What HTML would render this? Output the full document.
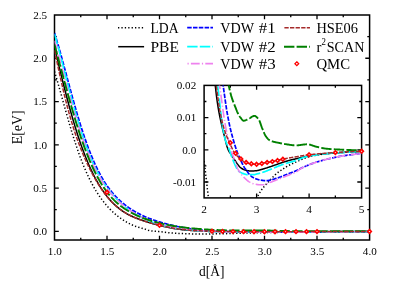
<!DOCTYPE html>
<html><head><meta charset="utf-8"><title>E vs d</title>
<style>html,body{margin:0;padding:0;background:#fff;width:396px;height:284px;overflow:hidden;font-family:"Liberation Serif",serif}</style>
</head><body>
<svg width="396" height="284" viewBox="0 0 396 284" style="position:absolute;left:0;top:0;will-change:transform">
<defs><clipPath id="cm"><rect x="54.50" y="15.00" width="315.10" height="225.00"/></clipPath><clipPath id="ci"><rect x="204.10" y="85.40" width="157.50" height="112.50"/></clipPath></defs>
<rect width="396" height="284" fill="#fff"/>
<path d="M80.75,240.00 v-2.30 M80.75,15.00 v2.30 M107.00,240.00 v-4.30 M107.00,15.00 v4.30 M133.25,240.00 v-2.30 M133.25,15.00 v2.30 M159.50,240.00 v-4.30 M159.50,15.00 v4.30 M185.75,240.00 v-2.30 M185.75,15.00 v2.30 M212.00,240.00 v-4.30 M212.00,15.00 v4.30 M238.25,240.00 v-2.30 M238.25,15.00 v2.30 M264.50,240.00 v-4.30 M264.50,15.00 v4.30 M290.75,240.00 v-2.30 M290.75,15.00 v2.30 M317.00,240.00 v-4.30 M317.00,15.00 v4.30 M343.25,240.00 v-2.30 M343.25,15.00 v2.30 M54.50,231.35 h4.30 M369.60,231.35 h-4.30 M54.50,209.72 h2.30 M369.60,209.72 h-2.30 M54.50,188.08 h4.30 M369.60,188.08 h-4.30 M54.50,166.44 h2.30 M369.60,166.44 h-2.30 M54.50,144.81 h4.30 M369.60,144.81 h-4.30 M54.50,123.17 h2.30 M369.60,123.17 h-2.30 M54.50,101.54 h4.30 M369.60,101.54 h-4.30 M54.50,79.90 h2.30 M369.60,79.90 h-2.30 M54.50,58.27 h4.30 M369.60,58.27 h-4.30 M54.50,36.63 h2.30 M369.60,36.63 h-2.30" stroke="#000" stroke-width="1.3" fill="none"/>
<rect x="54.50" y="15.00" width="315.10" height="225.00" stroke="#000" stroke-width="1.5" fill="none"/>
<g clip-path="url(#cm)">
<path d="M54.50,71.55 L55.72,75.57 L56.93,79.68 L58.15,83.88 L59.36,88.12 L60.58,92.42 L61.80,96.81 L63.01,101.23 L64.23,105.63 L65.45,109.98 L66.66,114.30 L67.88,118.59 L69.09,122.82 L70.31,126.95 L71.53,131.00 L72.74,134.97 L73.96,138.85 L75.18,142.62 L76.39,146.28 L77.61,149.84 L78.82,153.29 L80.04,156.64 L81.26,159.86 L82.47,162.98 L83.69,166.00 L84.91,168.90 L86.12,171.70 L87.34,174.40 L88.55,176.99 L89.77,179.49 L90.99,181.89 L92.20,184.20 L93.42,186.41 L94.64,188.54 L95.85,190.59 L97.07,192.55 L98.28,194.44 L99.50,196.25 L100.72,197.99 L101.93,199.66 L103.15,201.27 L104.36,202.80 L105.58,204.28 L106.80,205.70 L108.01,207.06 L109.23,208.37 L110.45,209.63 L111.66,210.83 L112.88,211.99 L114.09,213.10 L115.31,214.16 L116.53,215.18 L117.74,216.16 L118.96,217.10 L120.18,218.00 L121.39,218.86 L122.61,219.68 L123.82,220.47 L125.04,221.22 L126.26,221.93 L127.47,222.61 L128.69,223.26 L129.91,223.87 L131.12,224.45 L132.34,225.01 L133.55,225.54 L134.77,226.01 L135.99,226.43 L137.20,226.82 L138.42,227.19 L139.64,227.56 L140.85,227.92 L142.07,228.28 L143.28,228.64 L144.50,229.00 L145.72,229.40 L146.93,229.83 L148.15,230.22 L149.36,230.53 L150.58,230.77 L151.80,230.94 L153.01,231.08 L154.23,231.20 L155.45,231.30 L156.66,231.41 L157.88,231.51 L159.09,231.62 L160.31,231.73 L161.53,231.87 L162.74,232.01 L163.96,232.16 L165.18,232.30 L166.39,232.45 L167.61,232.58 L168.82,232.69 L170.04,232.79 L171.26,232.89 L172.47,232.98 L173.69,233.07 L174.91,233.15 L176.12,233.22 L177.34,233.30 L178.55,233.38 L179.77,233.45 L180.99,233.52 L182.20,233.58 L183.42,233.64 L184.64,233.69 L185.85,233.73 L187.07,233.77 L188.28,233.80 L189.50,233.84 L190.72,233.87 L191.93,233.90 L193.15,233.93 L194.36,233.95 L195.58,233.98 L196.80,234.00 L198.01,234.01 L199.23,234.02 L200.45,234.03 L201.66,234.03 L202.88,234.03 L204.09,234.02 L205.31,234.01 L206.53,234.00 L207.74,233.99 L208.96,233.97 L210.18,233.95 L211.39,233.93 L212.61,233.91 L213.82,233.89 L215.04,233.87 L216.26,233.85 L217.47,233.83 L218.69,233.81 L219.91,233.78 L221.12,233.76 L222.34,233.73 L223.55,233.70 L224.77,233.67 L225.99,233.63 L227.20,233.60 L228.42,233.57 L229.64,233.53 L230.85,233.50 L232.07,233.47 L233.28,233.43 L234.50,233.40 L235.72,233.36 L236.93,233.33 L238.15,233.30 L239.36,233.27 L240.58,233.24 L241.80,233.21 L243.01,233.17 L244.23,233.14 L245.45,233.11 L246.66,233.08 L247.88,233.05 L249.09,233.02 L250.31,232.99 L251.53,232.96 L252.74,232.93 L253.96,232.90 L255.18,232.87 L256.39,232.84 L257.61,232.81 L258.82,232.78 L260.04,232.75 L261.26,232.72 L262.47,232.69 L263.69,232.67 L264.91,232.64 L266.12,232.61 L267.34,232.58 L268.55,232.55 L269.77,232.52 L270.99,232.50 L272.20,232.47 L273.42,232.45 L274.64,232.42 L275.85,232.40 L277.07,232.38 L278.28,232.36 L279.50,232.34 L280.72,232.32 L281.93,232.30 L283.15,232.28 L284.36,232.27 L285.58,232.25 L286.80,232.23 L288.01,232.21 L289.23,232.20 L290.45,232.18 L291.66,232.16 L292.88,232.14 L294.09,232.13 L295.31,232.11 L296.53,232.09 L297.74,232.07 L298.96,232.06 L300.18,232.04 L301.39,232.03 L302.61,232.01 L303.82,232.00 L305.04,231.98 L306.26,231.97 L307.47,231.96 L308.69,231.94 L309.91,231.93 L311.12,231.92 L312.34,231.91 L313.55,231.90 L314.77,231.89 L315.99,231.88 L317.20,231.87 L318.42,231.86 L319.64,231.85 L320.85,231.83 L322.07,231.82 L323.28,231.81 L324.50,231.80 L325.72,231.79 L326.93,231.79 L328.15,231.78 L329.36,231.77 L330.58,231.76 L331.80,231.75 L333.01,231.74 L334.23,231.73 L335.45,231.73 L336.66,231.72 L337.88,231.71 L339.09,231.70 L340.31,231.70 L341.53,231.69 L342.74,231.68 L343.96,231.67 L345.18,231.67 L346.39,231.66 L347.61,231.65 L348.82,231.64 L350.04,231.64 L351.26,231.63 L352.47,231.62 L353.69,231.62 L354.91,231.61 L356.12,231.60 L357.34,231.60 L358.55,231.59 L359.77,231.58 L360.99,231.58 L362.20,231.57 L363.42,231.56 L364.64,231.56 L365.85,231.55 L367.07,231.55 L368.28,231.54 L369.50,231.54" stroke="#000" stroke-width="1.5" fill="none" stroke-dasharray="1.3 2.1"/>
<path d="M54.50,47.28 L55.72,52.41 L56.93,57.51 L58.15,62.59 L59.36,67.62 L60.58,72.62 L61.80,77.58 L63.01,82.46 L64.23,87.29 L65.45,92.04 L66.66,96.72 L67.88,101.31 L69.09,105.82 L70.31,110.24 L71.53,114.56 L72.74,118.78 L73.96,122.90 L75.18,126.92 L76.39,130.84 L77.61,134.65 L78.82,138.35 L80.04,141.95 L81.26,145.44 L82.47,148.83 L83.69,152.10 L84.91,155.27 L86.12,158.34 L87.34,161.31 L88.55,164.17 L89.77,166.93 L90.99,169.59 L92.20,172.15 L93.42,174.62 L94.64,177.00 L95.85,179.28 L97.07,181.48 L98.28,183.58 L99.50,185.61 L100.72,187.55 L101.93,189.41 L103.15,191.20 L104.36,192.91 L105.58,194.55 L106.80,196.11 L108.01,197.61 L109.23,199.04 L110.45,200.41 L111.66,201.72 L112.88,202.97 L114.09,204.16 L115.31,205.29 L116.53,206.37 L117.74,207.41 L118.96,208.39 L120.18,209.33 L121.39,210.22 L122.61,211.07 L123.82,211.88 L125.04,212.65 L126.26,213.38 L127.47,214.07 L128.69,214.73 L129.91,215.36 L131.12,215.96 L132.34,216.53 L133.55,217.07 L134.77,217.59 L135.99,218.09 L137.20,218.57 L138.42,219.03 L139.64,219.48 L140.85,219.91 L142.07,220.33 L143.28,220.74 L144.50,221.14 L145.72,221.53 L146.93,221.90 L148.15,222.28 L149.36,222.64 L150.58,222.99 L151.80,223.34 L153.01,223.68 L154.23,224.02 L155.45,224.35 L156.66,224.67 L157.88,224.99 L159.09,225.30 L160.31,225.60 L161.53,225.90 L162.74,226.19 L163.96,226.47 L165.18,226.75 L166.39,227.02 L167.61,227.28 L168.82,227.53 L170.04,227.77 L171.26,228.00 L172.47,228.22 L173.69,228.44 L174.91,228.64 L176.12,228.83 L177.34,229.02 L178.55,229.20 L179.77,229.36 L180.99,229.52 L182.20,229.67 L183.42,229.81 L184.64,229.94 L185.85,230.06 L187.07,230.17 L188.28,230.27 L189.50,230.36 L190.72,230.45 L191.93,230.52 L193.15,230.60 L194.36,230.67 L195.58,230.74 L196.80,230.81 L198.01,230.87 L199.23,230.94 L200.45,231.00 L201.66,231.06 L202.88,231.14 L204.09,231.20 L205.31,231.26 L206.53,231.31 L207.74,231.35 L208.96,231.38 L210.18,231.41 L211.39,231.43 L212.61,231.46 L213.82,231.48 L215.04,231.51 L216.26,231.53 L217.47,231.56 L218.69,231.58 L219.91,231.61 L221.12,231.63 L222.34,231.66 L223.55,231.68 L224.77,231.71 L225.99,231.73 L227.20,231.75 L228.42,231.77 L229.64,231.79 L230.85,231.81 L232.07,231.83 L233.28,231.84 L234.50,231.85 L235.72,231.86 L236.93,231.87 L238.15,231.88 L239.36,231.88 L240.58,231.89 L241.80,231.90 L243.01,231.90 L244.23,231.90 L245.45,231.91 L246.66,231.91 L247.88,231.91 L249.09,231.92 L250.31,231.92 L251.53,231.92 L252.74,231.92 L253.96,231.92 L255.18,231.92 L256.39,231.92 L257.61,231.92 L258.82,231.92 L260.04,231.92 L261.26,231.91 L262.47,231.91 L263.69,231.91 L264.91,231.91 L266.12,231.91 L267.34,231.90 L268.55,231.90 L269.77,231.90 L270.99,231.89 L272.20,231.89 L273.42,231.88 L274.64,231.88 L275.85,231.87 L277.07,231.87 L278.28,231.86 L279.50,231.86 L280.72,231.85 L281.93,231.85 L283.15,231.84 L284.36,231.84 L285.58,231.83 L286.80,231.83 L288.01,231.82 L289.23,231.82 L290.45,231.81 L291.66,231.81 L292.88,231.80 L294.09,231.79 L295.31,231.79 L296.53,231.78 L297.74,231.78 L298.96,231.77 L300.18,231.77 L301.39,231.76 L302.61,231.75 L303.82,231.75 L305.04,231.74 L306.26,231.74 L307.47,231.73 L308.69,231.72 L309.91,231.72 L311.12,231.71 L312.34,231.71 L313.55,231.70 L314.77,231.70 L315.99,231.69 L317.20,231.69 L318.42,231.68 L319.64,231.68 L320.85,231.67 L322.07,231.67 L323.28,231.66 L324.50,231.66 L325.72,231.65 L326.93,231.65 L328.15,231.64 L329.36,231.64 L330.58,231.63 L331.80,231.63 L333.01,231.62 L334.23,231.62 L335.45,231.62 L336.66,231.61 L337.88,231.61 L339.09,231.60 L340.31,231.60 L341.53,231.60 L342.74,231.59 L343.96,231.59 L345.18,231.59 L346.39,231.58 L347.61,231.58 L348.82,231.57 L350.04,231.57 L351.26,231.57 L352.47,231.56 L353.69,231.56 L354.91,231.56 L356.12,231.55 L357.34,231.55 L358.55,231.54 L359.77,231.54 L360.99,231.54 L362.20,231.53 L363.42,231.53 L364.64,231.53 L365.85,231.52 L367.07,231.52 L368.28,231.52 L369.50,231.51" stroke="#000" stroke-width="1.5" fill="none"/>
<path d="M54.50,33.05 L55.72,36.93 L56.93,40.94 L58.15,45.05 L59.36,49.25 L60.58,53.58 L61.80,57.99 L63.01,62.44 L64.23,66.92 L65.45,71.46 L66.66,75.99 L67.88,80.51 L69.09,85.04 L70.31,89.54 L71.53,93.99 L72.74,98.39 L73.96,102.76 L75.18,107.05 L76.39,111.27 L77.61,115.41 L78.82,119.48 L80.04,123.45 L81.26,127.33 L82.47,131.12 L83.69,134.80 L84.91,138.38 L86.12,141.87 L87.34,145.25 L88.55,148.51 L89.77,151.68 L90.99,154.74 L92.20,157.69 L93.42,160.54 L94.64,163.29 L95.85,165.93 L97.07,168.47 L98.28,170.91 L99.50,173.26 L100.72,175.50 L101.93,177.66 L103.15,179.73 L104.36,181.70 L105.58,183.59 L106.80,185.40 L108.01,187.13 L109.23,188.78 L110.45,190.36 L111.66,191.87 L112.88,193.32 L114.09,194.71 L115.31,196.04 L116.53,197.32 L117.74,198.55 L118.96,199.72 L120.18,200.85 L121.39,201.94 L122.61,202.98 L123.82,203.98 L125.04,204.95 L126.26,205.88 L127.47,206.77 L128.69,207.63 L129.91,208.46 L131.12,209.26 L132.34,210.03 L133.55,210.77 L134.77,211.49 L135.99,212.18 L137.20,212.85 L138.42,213.50 L139.64,214.12 L140.85,214.72 L142.07,215.30 L143.28,215.87 L144.50,216.41 L145.72,216.94 L146.93,217.45 L148.15,217.94 L149.36,218.42 L150.58,218.88 L151.80,219.33 L153.01,219.77 L154.23,220.19 L155.45,220.61 L156.66,221.01 L157.88,221.40 L159.09,221.78 L160.31,222.16 L161.53,222.52 L162.74,222.87 L163.96,223.22 L165.18,223.55 L166.39,223.88 L167.61,224.20 L168.82,224.51 L170.04,224.81 L171.26,225.10 L172.47,225.39 L173.69,225.67 L174.91,225.94 L176.12,226.20 L177.34,226.46 L178.55,226.71 L179.77,226.95 L180.99,227.18 L182.20,227.40 L183.42,227.62 L184.64,227.83 L185.85,228.03 L187.07,228.23 L188.28,228.42 L189.50,228.60 L190.72,228.77 L191.93,228.94 L193.15,229.09 L194.36,229.25 L195.58,229.39 L196.80,229.53 L198.01,229.66 L199.23,229.78 L200.45,229.90 L201.66,230.01 L202.88,230.12 L204.09,230.23 L205.31,230.33 L206.53,230.42 L207.74,230.51 L208.96,230.60 L210.18,230.67 L211.39,230.75 L212.61,230.82 L213.82,230.88 L215.04,230.94 L216.26,231.00 L217.47,231.06 L218.69,231.12 L219.91,231.17 L221.12,231.23 L222.34,231.28 L223.55,231.33 L224.77,231.37 L225.99,231.42 L227.20,231.46 L228.42,231.50 L229.64,231.54 L230.85,231.58 L232.07,231.61 L233.28,231.65 L234.50,231.68 L235.72,231.72 L236.93,231.75 L238.15,231.78 L239.36,231.81 L240.58,231.84 L241.80,231.86 L243.01,231.88 L244.23,231.90 L245.45,231.92 L246.66,231.95 L247.88,231.97 L249.09,231.99 L250.31,232.01 L251.53,232.03 L252.74,232.05 L253.96,232.06 L255.18,232.07 L256.39,232.09 L257.61,232.10 L258.82,232.10 L260.04,232.11 L261.26,232.12 L262.47,232.13 L263.69,232.13 L264.91,232.14 L266.12,232.14 L267.34,232.15 L268.55,232.15 L269.77,232.16 L270.99,232.16 L272.20,232.16 L273.42,232.17 L274.64,232.17 L275.85,232.17 L277.07,232.17 L278.28,232.18 L279.50,232.18 L280.72,232.18 L281.93,232.18 L283.15,232.18 L284.36,232.18 L285.58,232.18 L286.80,232.18 L288.01,232.18 L289.23,232.17 L290.45,232.17 L291.66,232.17 L292.88,232.16 L294.09,232.16 L295.31,232.15 L296.53,232.15 L297.74,232.14 L298.96,232.14 L300.18,232.13 L301.39,232.13 L302.61,232.12 L303.82,232.12 L305.04,232.11 L306.26,232.11 L307.47,232.10 L308.69,232.10 L309.91,232.09 L311.12,232.09 L312.34,232.08 L313.55,232.07 L314.77,232.07 L315.99,232.06 L317.20,232.05 L318.42,232.05 L319.64,232.04 L320.85,232.03 L322.07,232.03 L323.28,232.02 L324.50,232.01 L325.72,232.01 L326.93,232.00 L328.15,231.99 L329.36,231.99 L330.58,231.98 L331.80,231.98 L333.01,231.97 L334.23,231.96 L335.45,231.96 L336.66,231.95 L337.88,231.94 L339.09,231.94 L340.31,231.93 L341.53,231.92 L342.74,231.92 L343.96,231.91 L345.18,231.90 L346.39,231.89 L347.61,231.89 L348.82,231.88 L350.04,231.87 L351.26,231.86 L352.47,231.85 L353.69,231.84 L354.91,231.84 L356.12,231.83 L357.34,231.82 L358.55,231.81 L359.77,231.81 L360.99,231.80 L362.20,231.79 L363.42,231.79 L364.64,231.78 L365.85,231.77 L367.07,231.77 L368.28,231.76 L369.50,231.75" stroke="#0000ff" stroke-width="1.7" fill="none" stroke-dasharray="4.5 1.3"/>
<path d="M54.50,34.05 L55.72,38.29 L56.93,42.65 L58.15,47.09 L59.36,51.62 L60.58,56.25 L61.80,60.94 L63.01,65.65 L64.23,70.37 L65.45,75.12 L66.66,79.86 L67.88,84.55 L69.09,89.22 L70.31,93.85 L71.53,98.41 L72.74,102.90 L73.96,107.33 L75.18,111.67 L76.39,115.91 L77.61,120.06 L78.82,124.12 L80.04,128.06 L81.26,131.89 L82.47,135.62 L83.69,139.24 L84.91,142.73 L86.12,146.12 L87.34,149.39 L88.55,152.54 L89.77,155.58 L90.99,158.51 L92.20,161.32 L93.42,164.02 L94.64,166.62 L95.85,169.11 L97.07,171.49 L98.28,173.77 L99.50,175.96 L100.72,178.06 L101.93,180.08 L103.15,182.01 L104.36,183.87 L105.58,185.66 L106.80,187.38 L108.01,189.03 L109.23,190.62 L110.45,192.16 L111.66,193.63 L112.88,195.05 L114.09,196.42 L115.31,197.74 L116.53,199.02 L117.74,200.25 L118.96,201.44 L120.18,202.58 L121.39,203.69 L122.61,204.76 L123.82,205.79 L125.04,206.79 L126.26,207.76 L127.47,208.69 L128.69,209.59 L129.91,210.46 L131.12,211.30 L132.34,212.12 L133.55,212.90 L134.77,213.66 L135.99,214.40 L137.20,215.11 L138.42,215.80 L139.64,216.46 L140.85,217.11 L142.07,217.73 L143.28,218.33 L144.50,218.91 L145.72,219.47 L146.93,220.01 L148.15,220.53 L149.36,221.03 L150.58,221.51 L151.80,221.98 L153.01,222.43 L154.23,222.87 L155.45,223.28 L156.66,223.69 L157.88,224.07 L159.09,224.44 L160.31,224.80 L161.53,225.15 L162.74,225.48 L163.96,225.79 L165.18,226.09 L166.39,226.39 L167.61,226.66 L168.82,226.93 L170.04,227.18 L171.26,227.43 L172.47,227.66 L173.69,227.88 L174.91,228.09 L176.12,228.29 L177.34,228.48 L178.55,228.66 L179.77,228.84 L180.99,229.00 L182.20,229.16 L183.42,229.30 L184.64,229.44 L185.85,229.57 L187.07,229.69 L188.28,229.81 L189.50,229.94 L190.72,230.08 L191.93,230.23 L193.15,230.38 L194.36,230.51 L195.58,230.64 L196.80,230.75 L198.01,230.85 L199.23,230.93 L200.45,231.01 L201.66,231.07 L202.88,231.12 L204.09,231.17 L205.31,231.21 L206.53,231.24 L207.74,231.28 L208.96,231.32 L210.18,231.36 L211.39,231.41 L212.61,231.46 L213.82,231.51 L215.04,231.55 L216.26,231.59 L217.47,231.63 L218.69,231.67 L219.91,231.71 L221.12,231.75 L222.34,231.78 L223.55,231.82 L224.77,231.85 L225.99,231.88 L227.20,231.90 L228.42,231.92 L229.64,231.93 L230.85,231.94 L232.07,231.95 L233.28,231.96 L234.50,231.97 L235.72,231.98 L236.93,231.98 L238.15,231.99 L239.36,232.00 L240.58,232.00 L241.80,232.01 L243.01,232.01 L244.23,232.02 L245.45,232.02 L246.66,232.02 L247.88,232.02 L249.09,232.02 L250.31,232.02 L251.53,232.02 L252.74,232.02 L253.96,232.02 L255.18,232.02 L256.39,232.02 L257.61,232.02 L258.82,232.02 L260.04,232.02 L261.26,232.01 L262.47,232.01 L263.69,232.01 L264.91,232.00 L266.12,232.00 L267.34,231.99 L268.55,231.99 L269.77,231.98 L270.99,231.98 L272.20,231.98 L273.42,231.97 L274.64,231.97 L275.85,231.96 L277.07,231.95 L278.28,231.95 L279.50,231.94 L280.72,231.94 L281.93,231.93 L283.15,231.93 L284.36,231.92 L285.58,231.91 L286.80,231.91 L288.01,231.90 L289.23,231.89 L290.45,231.89 L291.66,231.88 L292.88,231.87 L294.09,231.87 L295.31,231.86 L296.53,231.85 L297.74,231.85 L298.96,231.84 L300.18,231.83 L301.39,231.83 L302.61,231.82 L303.82,231.81 L305.04,231.81 L306.26,231.80 L307.47,231.79 L308.69,231.79 L309.91,231.78 L311.12,231.77 L312.34,231.77 L313.55,231.76 L314.77,231.76 L315.99,231.75 L317.20,231.74 L318.42,231.74 L319.64,231.73 L320.85,231.73 L322.07,231.72 L323.28,231.72 L324.50,231.71 L325.72,231.71 L326.93,231.70 L328.15,231.70 L329.36,231.69 L330.58,231.69 L331.80,231.68 L333.01,231.68 L334.23,231.67 L335.45,231.67 L336.66,231.67 L337.88,231.66 L339.09,231.66 L340.31,231.65 L341.53,231.65 L342.74,231.64 L343.96,231.63 L345.18,231.63 L346.39,231.62 L347.61,231.62 L348.82,231.61 L350.04,231.60 L351.26,231.59 L352.47,231.59 L353.69,231.58 L354.91,231.57 L356.12,231.57 L357.34,231.56 L358.55,231.55 L359.77,231.55 L360.99,231.54 L362.20,231.54 L363.42,231.54 L364.64,231.53 L365.85,231.53 L367.07,231.53 L368.28,231.52 L369.50,231.52" stroke="#00ffff" stroke-width="1.7" fill="none" stroke-dasharray="10.4 2.2"/>
<path d="M54.50,40.75 L55.72,45.01 L56.93,49.35 L58.15,53.75 L59.36,58.19 L60.58,62.71 L61.80,67.25 L63.01,71.79 L64.23,76.33 L65.45,80.87 L66.66,85.39 L67.88,89.86 L69.09,94.29 L70.31,98.68 L71.53,103.00 L72.74,107.25 L73.96,111.43 L75.18,115.53 L76.39,119.54 L77.61,123.47 L78.82,127.30 L80.04,131.03 L81.26,134.66 L82.47,138.20 L83.69,141.63 L84.91,144.95 L86.12,148.18 L87.34,151.30 L88.55,154.31 L89.77,157.22 L90.99,160.03 L92.20,162.74 L93.42,165.34 L94.64,167.85 L95.85,170.27 L97.07,172.58 L98.28,174.80 L99.50,176.93 L100.72,178.98 L101.93,180.95 L103.15,182.83 L104.36,184.64 L105.58,186.38 L106.80,188.06 L108.01,189.66 L109.23,191.21 L110.45,192.70 L111.66,194.14 L112.88,195.52 L114.09,196.85 L115.31,198.14 L116.53,199.37 L117.74,200.57 L118.96,201.72 L120.18,202.83 L121.39,203.90 L122.61,204.94 L123.82,205.94 L125.04,206.90 L126.26,207.83 L127.47,208.73 L128.69,209.60 L129.91,210.45 L131.12,211.26 L132.34,212.04 L133.55,212.80 L134.77,213.54 L135.99,214.25 L137.20,214.93 L138.42,215.59 L139.64,216.23 L140.85,216.85 L142.07,217.45 L143.28,218.03 L144.50,218.59 L145.72,219.13 L146.93,219.65 L148.15,220.15 L149.36,220.64 L150.58,221.11 L151.80,221.56 L153.01,222.00 L154.23,222.42 L155.45,222.83 L156.66,223.22 L157.88,223.60 L159.09,223.96 L160.31,224.32 L161.53,224.65 L162.74,224.98 L163.96,225.29 L165.18,225.59 L166.39,225.88 L167.61,226.16 L168.82,226.43 L170.04,226.68 L171.26,226.93 L172.47,227.16 L173.69,227.39 L174.91,227.61 L176.12,227.81 L177.34,228.01 L178.55,228.20 L179.77,228.38 L180.99,228.55 L182.20,228.72 L183.42,228.87 L184.64,229.02 L185.85,229.16 L187.07,229.30 L188.28,229.43 L189.50,229.55 L190.72,229.66 L191.93,229.76 L193.15,229.88 L194.36,230.00 L195.58,230.12 L196.80,230.24 L198.01,230.35 L199.23,230.46 L200.45,230.57 L201.66,230.67 L202.88,230.76 L204.09,230.84 L205.31,230.92 L206.53,230.99 L207.74,231.06 L208.96,231.12 L210.18,231.19 L211.39,231.26 L212.61,231.32 L213.82,231.37 L215.04,231.42 L216.26,231.47 L217.47,231.51 L218.69,231.56 L219.91,231.60 L221.12,231.65 L222.34,231.69 L223.55,231.74 L224.77,231.78 L225.99,231.83 L227.20,231.87 L228.42,231.90 L229.64,231.93 L230.85,231.95 L232.07,231.98 L233.28,232.00 L234.50,232.02 L235.72,232.04 L236.93,232.06 L238.15,232.08 L239.36,232.09 L240.58,232.11 L241.80,232.12 L243.01,232.14 L244.23,232.15 L245.45,232.17 L246.66,232.18 L247.88,232.19 L249.09,232.21 L250.31,232.22 L251.53,232.22 L252.74,232.23 L253.96,232.24 L255.18,232.25 L256.39,232.25 L257.61,232.26 L258.82,232.27 L260.04,232.27 L261.26,232.27 L262.47,232.28 L263.69,232.28 L264.91,232.28 L266.12,232.28 L267.34,232.29 L268.55,232.29 L269.77,232.29 L270.99,232.29 L272.20,232.29 L273.42,232.29 L274.64,232.29 L275.85,232.29 L277.07,232.29 L278.28,232.29 L279.50,232.29 L280.72,232.28 L281.93,232.28 L283.15,232.27 L284.36,232.27 L285.58,232.26 L286.80,232.25 L288.01,232.25 L289.23,232.24 L290.45,232.23 L291.66,232.23 L292.88,232.22 L294.09,232.21 L295.31,232.21 L296.53,232.20 L297.74,232.20 L298.96,232.19 L300.18,232.18 L301.39,232.18 L302.61,232.17 L303.82,232.16 L305.04,232.16 L306.26,232.15 L307.47,232.14 L308.69,232.14 L309.91,232.13 L311.12,232.12 L312.34,232.12 L313.55,232.11 L314.77,232.10 L315.99,232.10 L317.20,232.09 L318.42,232.08 L319.64,232.08 L320.85,232.07 L322.07,232.07 L323.28,232.06 L324.50,232.05 L325.72,232.05 L326.93,232.04 L328.15,232.03 L329.36,232.03 L330.58,232.02 L331.80,232.01 L333.01,232.01 L334.23,232.00 L335.45,231.99 L336.66,231.99 L337.88,231.98 L339.09,231.97 L340.31,231.97 L341.53,231.96 L342.74,231.95 L343.96,231.94 L345.18,231.93 L346.39,231.92 L347.61,231.91 L348.82,231.90 L350.04,231.88 L351.26,231.87 L352.47,231.86 L353.69,231.85 L354.91,231.84 L356.12,231.83 L357.34,231.82 L358.55,231.81 L359.77,231.81 L360.99,231.80 L362.20,231.79 L363.42,231.78 L364.64,231.78 L365.85,231.77 L367.07,231.76 L368.28,231.76 L369.50,231.75" stroke="#ee82ee" stroke-width="1.6" fill="none" stroke-dasharray="8.8 2.2 1.2 2.2"/>
<path d="M54.50,44.58 L55.72,49.09 L56.93,53.62 L58.15,58.17 L59.36,62.72 L60.58,67.28 L61.80,71.84 L63.01,76.37 L64.23,80.88 L65.45,85.37 L66.66,89.82 L67.88,94.22 L69.09,98.58 L70.31,102.88 L71.53,107.12 L72.74,111.30 L73.96,115.42 L75.18,119.46 L76.39,123.42 L77.61,127.30 L78.82,131.09 L80.04,134.79 L81.26,138.40 L82.47,141.91 L83.69,145.32 L84.91,148.63 L86.12,151.84 L87.34,154.96 L88.55,157.96 L89.77,160.87 L90.99,163.68 L92.20,166.39 L93.42,169.00 L94.64,171.51 L95.85,173.93 L97.07,176.25 L98.28,178.49 L99.50,180.63 L100.72,182.68 L101.93,184.65 L103.15,186.53 L104.36,188.34 L105.58,190.06 L106.80,191.71 L108.01,193.29 L109.23,194.79 L110.45,196.23 L111.66,197.60 L112.88,198.90 L114.09,200.14 L115.31,201.32 L116.53,202.45 L117.74,203.52 L118.96,204.55 L120.18,205.52 L121.39,206.46 L122.61,207.35 L123.82,208.20 L125.04,209.02 L126.26,209.80 L127.47,210.55 L128.69,211.27 L129.91,211.97 L131.12,212.63 L132.34,213.27 L133.55,213.89 L134.77,214.48 L135.99,215.06 L137.20,215.61 L138.42,216.14 L139.64,216.66 L140.85,217.15 L142.07,217.64 L143.28,218.10 L144.50,218.55 L145.72,218.99 L146.93,219.41 L148.15,219.82 L149.36,220.22 L150.58,220.61 L151.80,220.98 L153.01,221.34 L154.23,221.69 L155.45,222.03 L156.66,222.36 L157.88,222.67 L159.09,222.98 L160.31,223.28 L161.53,223.57 L162.74,223.84 L163.96,224.11 L165.18,224.37 L166.39,224.63 L167.61,224.87 L168.82,225.10 L170.04,225.33 L171.26,225.55 L172.47,225.76 L173.69,225.97 L174.91,226.17 L176.12,226.36 L177.34,226.55 L178.55,226.73 L179.77,226.90 L180.99,227.07 L182.20,227.23 L183.42,227.38 L184.64,227.53 L185.85,227.68 L187.07,227.82 L188.28,227.95 L189.50,228.09 L190.72,228.21 L191.93,228.33 L193.15,228.45 L194.36,228.56 L195.58,228.67 L196.80,228.78 L198.01,228.88 L199.23,228.98 L200.45,229.07 L201.66,229.16 L202.88,229.25 L204.09,229.33 L205.31,229.41 L206.53,229.49 L207.74,229.57 L208.96,229.64 L210.18,229.71 L211.39,229.78 L212.61,229.84 L213.82,229.90 L215.04,229.96 L216.26,230.01 L217.47,230.05 L218.69,230.09 L219.91,230.13 L221.12,230.17 L222.34,230.21 L223.55,230.26 L224.77,230.30 L225.99,230.34 L227.20,230.37 L228.42,230.40 L229.64,230.43 L230.85,230.46 L232.07,230.48 L233.28,230.50 L234.50,230.52 L235.72,230.54 L236.93,230.56 L238.15,230.57 L239.36,230.57 L240.58,230.56 L241.80,230.56 L243.01,230.55 L244.23,230.55 L245.45,230.54 L246.66,230.53 L247.88,230.52 L249.09,230.51 L250.31,230.50 L251.53,230.50 L252.74,230.48 L253.96,230.47 L255.18,230.46 L256.39,230.45 L257.61,230.45 L258.82,230.44 L260.04,230.44 L261.26,230.44 L262.47,230.45 L263.69,230.46 L264.91,230.48 L266.12,230.49 L267.34,230.51 L268.55,230.53 L269.77,230.56 L270.99,230.60 L272.20,230.64 L273.42,230.69 L274.64,230.74 L275.85,230.78 L277.07,230.82 L278.28,230.86 L279.50,230.90 L280.72,230.93 L281.93,230.96 L283.15,230.99 L284.36,231.01 L285.58,231.03 L286.80,231.05 L288.01,231.07 L289.23,231.08 L290.45,231.09 L291.66,231.10 L292.88,231.11 L294.09,231.12 L295.31,231.12 L296.53,231.13 L297.74,231.13 L298.96,231.14 L300.18,231.14 L301.39,231.14 L302.61,231.15 L303.82,231.15 L305.04,231.15 L306.26,231.16 L307.47,231.16 L308.69,231.16 L309.91,231.17 L311.12,231.17 L312.34,231.17 L313.55,231.18 L314.77,231.18 L315.99,231.18 L317.20,231.19 L318.42,231.19 L319.64,231.19 L320.85,231.19 L322.07,231.20 L323.28,231.20 L324.50,231.20 L325.72,231.20 L326.93,231.21 L328.15,231.21 L329.36,231.21 L330.58,231.21 L331.80,231.22 L333.01,231.22 L334.23,231.22 L335.45,231.22 L336.66,231.23 L337.88,231.23 L339.09,231.23 L340.31,231.23 L341.53,231.23 L342.74,231.23 L343.96,231.23 L345.18,231.23 L346.39,231.23 L347.61,231.23 L348.82,231.23 L350.04,231.23 L351.26,231.22 L352.47,231.22 L353.69,231.22 L354.91,231.22 L356.12,231.21 L357.34,231.21 L358.55,231.21 L359.77,231.21 L360.99,231.21 L362.20,231.20 L363.42,231.20 L364.64,231.20 L365.85,231.20 L367.07,231.20 L368.28,231.20 L369.50,231.21" stroke="#008000" stroke-width="1.9" fill="none" stroke-dasharray="10.4 2.2"/>
<path d="M54.50,50.12 L55.72,55.94 L56.93,61.69 L58.15,67.35 L59.36,72.94 L60.58,78.45 L61.80,83.86 L63.01,89.12 L64.23,94.24 L65.45,99.23 L66.66,104.06 L67.88,108.70 L69.09,113.18 L70.31,117.50 L71.53,121.65 L72.74,125.64 L73.96,129.48 L75.18,133.18 L76.39,136.75 L77.61,140.19 L78.82,143.51 L80.04,146.71 L81.26,149.81 L82.47,152.80 L83.69,155.70 L84.91,158.50 L86.12,161.21 L87.34,163.84 L88.55,166.38 L89.77,168.85 L90.99,171.23 L92.20,173.55 L93.42,175.80 L94.64,177.97 L95.85,180.09 L97.07,182.14 L98.28,184.13 L99.50,186.06 L100.72,187.92 L101.93,189.73 L103.15,191.47 L104.36,193.15 L105.58,194.76 L106.80,196.30 L108.01,197.78 L109.23,199.19 L110.45,200.54 L111.66,201.82 L112.88,203.04 L114.09,204.21 L115.31,205.32 L116.53,206.38 L117.74,207.39 L118.96,208.35 L120.18,209.27 L121.39,210.14 L122.61,210.98 L123.82,211.78 L125.04,212.54 L126.26,213.27 L127.47,213.96 L128.69,214.62 L129.91,215.25 L131.12,215.85 L132.34,216.43 L133.55,216.98 L134.77,217.51 L135.99,218.02 L137.20,218.51 L138.42,218.98 L139.64,219.44 L140.85,219.88 L142.07,220.30 L143.28,220.72 L144.50,221.12 L145.72,221.51 L146.93,221.89 L148.15,222.26 L149.36,222.62 L150.58,222.97 L151.80,223.31 L153.01,223.64 L154.23,223.96 L155.45,224.28 L156.66,224.59 L157.88,224.89 L159.09,225.19 L160.31,225.48 L161.53,225.76 L162.74,226.03 L163.96,226.30 L165.18,226.55 L166.39,226.81 L167.61,227.05 L168.82,227.29 L170.04,227.52 L171.26,227.74 L172.47,227.96 L173.69,228.17 L174.91,228.37 L176.12,228.56 L177.34,228.75 L178.55,228.92 L179.77,229.09 L180.99,229.26 L182.20,229.41 L183.42,229.56 L184.64,229.70 L185.85,229.83 L187.07,229.96 L188.28,230.07 L189.50,230.18 L190.72,230.28 L191.93,230.37 L193.15,230.45 L194.36,230.52 L195.58,230.59 L196.80,230.66 L198.01,230.72 L199.23,230.77 L200.45,230.83 L201.66,230.88 L202.88,230.92 L204.09,230.97 L205.31,231.01 L206.53,231.05 L207.74,231.08 L208.96,231.12 L210.18,231.16 L211.39,231.19 L212.61,231.23 L213.82,231.26 L215.04,231.30 L216.26,231.33 L217.47,231.36 L218.69,231.39 L219.91,231.42 L221.12,231.44 L222.34,231.46 L223.55,231.48 L224.77,231.50 L225.99,231.52 L227.20,231.54 L228.42,231.55 L229.64,231.57 L230.85,231.58 L232.07,231.59 L233.28,231.61 L234.50,231.62 L235.72,231.63 L236.93,231.65 L238.15,231.66 L239.36,231.67 L240.58,231.68 L241.80,231.69 L243.01,231.69 L244.23,231.70 L245.45,231.70 L246.66,231.71 L247.88,231.71 L249.09,231.72 L250.31,231.72 L251.53,231.72 L252.74,231.73 L253.96,231.73 L255.18,231.73 L256.39,231.73 L257.61,231.73 L258.82,231.74 L260.04,231.74 L261.26,231.74 L262.47,231.74 L263.69,231.74 L264.91,231.74 L266.12,231.74 L267.34,231.74 L268.55,231.73 L269.77,231.73 L270.99,231.73 L272.20,231.72 L273.42,231.72 L274.64,231.72 L275.85,231.71 L277.07,231.71 L278.28,231.71 L279.50,231.70 L280.72,231.70 L281.93,231.70 L283.15,231.69 L284.36,231.69 L285.58,231.69 L286.80,231.68 L288.01,231.68 L289.23,231.68 L290.45,231.68 L291.66,231.67 L292.88,231.67 L294.09,231.67 L295.31,231.67 L296.53,231.66 L297.74,231.66 L298.96,231.66 L300.18,231.65 L301.39,231.65 L302.61,231.64 L303.82,231.64 L305.04,231.64 L306.26,231.63 L307.47,231.63 L308.69,231.63 L309.91,231.62 L311.12,231.62 L312.34,231.61 L313.55,231.61 L314.77,231.61 L315.99,231.60 L317.20,231.60 L318.42,231.60 L319.64,231.59 L320.85,231.59 L322.07,231.59 L323.28,231.58 L324.50,231.58 L325.72,231.58 L326.93,231.58 L328.15,231.57 L329.36,231.57 L330.58,231.57 L331.80,231.56 L333.01,231.56 L334.23,231.56 L335.45,231.56 L336.66,231.55 L337.88,231.55 L339.09,231.55 L340.31,231.54 L341.53,231.54 L342.74,231.54 L343.96,231.54 L345.18,231.53 L346.39,231.53 L347.61,231.53 L348.82,231.53 L350.04,231.52 L351.26,231.52 L352.47,231.52 L353.69,231.51 L354.91,231.51 L356.12,231.51 L357.34,231.51 L358.55,231.50 L359.77,231.50 L360.99,231.50 L362.20,231.50 L363.42,231.49 L364.64,231.49 L365.85,231.49 L367.07,231.49 L368.28,231.48 L369.50,231.48" stroke="#a52a2a" stroke-width="1.5" fill="none" stroke-dasharray="4.3 1.3"/>
</g>
<path d="M107.00,190.40 l1.80,1.80 l-1.80,1.80 l-1.80,-1.80 z" fill="#fff" stroke="#ff0000" stroke-width="1.6"/>
<path d="M159.50,223.40 l1.80,1.80 l-1.80,1.80 l-1.80,-1.80 z" fill="#fff" stroke="#ff0000" stroke-width="1.6"/>
<path d="M212.00,229.36 l1.80,1.80 l-1.80,1.80 l-1.80,-1.80 z" fill="#fff" stroke="#ff0000" stroke-width="1.6"/>
<path d="M222.50,229.64 l1.80,1.80 l-1.80,1.80 l-1.80,-1.80 z" fill="#fff" stroke="#ff0000" stroke-width="1.6"/>
<path d="M233.00,229.79 l1.80,1.80 l-1.80,1.80 l-1.80,-1.80 z" fill="#fff" stroke="#ff0000" stroke-width="1.6"/>
<path d="M243.50,229.89 l1.80,1.80 l-1.80,1.80 l-1.80,-1.80 z" fill="#fff" stroke="#ff0000" stroke-width="1.6"/>
<path d="M254.00,229.93 l1.80,1.80 l-1.80,1.80 l-1.80,-1.80 z" fill="#fff" stroke="#ff0000" stroke-width="1.6"/>
<path d="M264.50,229.94 l1.80,1.80 l-1.80,1.80 l-1.80,-1.80 z" fill="#fff" stroke="#ff0000" stroke-width="1.6"/>
<path d="M275.00,229.92 l1.80,1.80 l-1.80,1.80 l-1.80,-1.80 z" fill="#fff" stroke="#ff0000" stroke-width="1.6"/>
<path d="M285.50,229.89 l1.80,1.80 l-1.80,1.80 l-1.80,-1.80 z" fill="#fff" stroke="#ff0000" stroke-width="1.6"/>
<path d="M296.00,229.87 l1.80,1.80 l-1.80,1.80 l-1.80,-1.80 z" fill="#fff" stroke="#ff0000" stroke-width="1.6"/>
<path d="M306.50,229.84 l1.80,1.80 l-1.80,1.80 l-1.80,-1.80 z" fill="#fff" stroke="#ff0000" stroke-width="1.6"/>
<path d="M317.00,229.80 l1.80,1.80 l-1.80,1.80 l-1.80,-1.80 z" fill="#fff" stroke="#ff0000" stroke-width="1.6"/>
<path d="M369.50,229.68 l1.80,1.80 l-1.80,1.80 l-1.80,-1.80 z" fill="#fff" stroke="#ff0000" stroke-width="1.6"/>
<rect x="204.10" y="85.40" width="157.50" height="112.50" fill="#fff" stroke="#000" stroke-width="1.5"/>
<path d="M230.35,197.90 v-2.30 M230.35,85.40 v2.30 M256.60,197.90 v-4.30 M256.60,85.40 v4.30 M282.85,197.90 v-2.30 M282.85,85.40 v2.30 M309.10,197.90 v-4.30 M309.10,85.40 v4.30 M335.35,197.90 v-2.30 M335.35,85.40 v2.30 M204.10,182.00 h4.30 M361.60,182.00 h-4.30 M204.10,165.90 h2.30 M361.60,165.90 h-2.30 M204.10,149.80 h4.30 M361.60,149.80 h-4.30 M204.10,133.70 h2.30 M361.60,133.70 h-2.30 M204.10,117.60 h4.30 M361.60,117.60 h-4.30 M204.10,101.50 h2.30 M361.60,101.50 h-2.30" stroke="#000" stroke-width="1.3" fill="none"/>
<g clip-path="url(#ci)">
<path d="M204.10,161.07 L204.54,164.29 L204.98,167.87 L205.42,171.74 L205.85,175.73 L206.29,179.58 L206.73,183.44 L207.17,187.35 L207.61,191.17 L208.05,194.69 L208.49,197.74 L208.93,200.61 L209.36,203.38 L209.80,206.02 L210.24,208.55 L210.68,210.95 L211.12,213.24 L211.56,215.43 L212.00,217.52 L212.44,219.59 L212.87,221.65 L213.31,223.71 L213.75,225.74 L214.19,227.71 L214.63,229.62 L215.07,231.44 L215.51,233.15 L215.95,234.73 L216.38,236.15 L216.82,237.39 L217.26,238.43 L217.70,239.37 L218.14,240.31 L218.58,241.23 L219.02,242.13 L219.46,243.01 L219.89,243.86 L220.33,244.67 L220.77,245.45 L221.21,246.17 L221.65,246.85 L222.09,247.46 L222.53,248.01 L222.96,248.49 L223.40,248.89 L223.84,249.21 L224.28,249.44 L224.72,249.58 L225.16,249.62 L225.60,249.57 L226.04,249.45 L226.47,249.27 L226.91,249.02 L227.35,248.72 L227.79,248.36 L228.23,247.96 L228.67,247.53 L229.11,247.05 L229.55,246.55 L229.98,246.03 L230.42,245.48 L230.86,244.93 L231.30,244.36 L231.74,243.79 L232.18,243.23 L232.62,242.67 L233.06,242.11 L233.49,241.53 L233.93,240.90 L234.37,240.23 L234.81,239.52 L235.25,238.77 L235.69,237.99 L236.13,237.18 L236.57,236.34 L237.00,235.49 L237.44,234.61 L237.88,233.72 L238.32,232.82 L238.76,231.91 L239.20,230.99 L239.64,230.07 L240.07,229.14 L240.51,228.22 L240.95,227.31 L241.39,226.40 L241.83,225.50 L242.27,224.61 L242.71,223.74 L243.15,222.88 L243.58,222.04 L244.02,221.20 L244.46,220.36 L244.90,219.52 L245.34,218.68 L245.78,217.84 L246.22,217.00 L246.66,216.17 L247.09,215.33 L247.53,214.49 L247.97,213.66 L248.41,212.83 L248.85,212.00 L249.29,211.17 L249.73,210.35 L250.17,209.53 L250.60,208.71 L251.04,207.90 L251.48,207.10 L251.92,206.29 L252.36,205.50 L252.80,204.71 L253.24,203.92 L253.68,203.14 L254.11,202.37 L254.55,201.60 L254.99,200.84 L255.43,200.08 L255.87,199.33 L256.31,198.59 L256.75,197.85 L257.18,197.10 L257.62,196.34 L258.06,195.56 L258.50,194.79 L258.94,194.02 L259.38,193.27 L259.82,192.54 L260.26,191.83 L260.69,191.15 L261.13,190.51 L261.57,189.89 L262.01,189.29 L262.45,188.71 L262.89,188.15 L263.33,187.60 L263.77,187.06 L264.20,186.54 L264.64,186.02 L265.08,185.52 L265.52,185.02 L265.96,184.54 L266.40,184.05 L266.84,183.58 L267.28,183.10 L267.71,182.63 L268.15,182.16 L268.59,181.70 L269.03,181.23 L269.47,180.77 L269.91,180.30 L270.35,179.83 L270.79,179.36 L271.22,178.88 L271.66,178.41 L272.10,177.94 L272.54,177.47 L272.98,177.01 L273.42,176.55 L273.86,176.10 L274.29,175.66 L274.73,175.23 L275.17,174.81 L275.61,174.40 L276.05,174.00 L276.49,173.61 L276.93,173.24 L277.37,172.88 L277.80,172.54 L278.24,172.20 L278.68,171.87 L279.12,171.55 L279.56,171.24 L280.00,170.93 L280.44,170.63 L280.88,170.34 L281.31,170.04 L281.75,169.76 L282.19,169.47 L282.63,169.19 L283.07,168.91 L283.51,168.64 L283.95,168.36 L284.39,168.08 L284.82,167.81 L285.26,167.54 L285.70,167.26 L286.14,167.00 L286.58,166.73 L287.02,166.47 L287.46,166.21 L287.90,165.96 L288.33,165.71 L288.77,165.46 L289.21,165.22 L289.65,164.98 L290.09,164.75 L290.53,164.53 L290.97,164.31 L291.41,164.10 L291.84,163.89 L292.28,163.68 L292.72,163.48 L293.16,163.28 L293.60,163.08 L294.04,162.88 L294.48,162.69 L294.91,162.49 L295.35,162.29 L295.79,162.09 L296.23,161.89 L296.67,161.69 L297.11,161.49 L297.55,161.29 L297.99,161.09 L298.42,160.89 L298.86,160.69 L299.30,160.50 L299.74,160.31 L300.18,160.13 L300.62,159.94 L301.06,159.76 L301.50,159.57 L301.93,159.39 L302.37,159.20 L302.81,159.02 L303.25,158.84 L303.69,158.66 L304.13,158.48 L304.57,158.31 L305.01,158.13 L305.44,157.97 L305.88,157.80 L306.32,157.64 L306.76,157.48 L307.20,157.33 L307.64,157.19 L308.08,157.05 L308.52,156.91 L308.95,156.78 L309.39,156.66 L309.83,156.54 L310.27,156.43 L310.71,156.33 L311.15,156.22 L311.59,156.12 L312.02,156.02 L312.46,155.93 L312.90,155.83 L313.34,155.74 L313.78,155.65 L314.22,155.56 L314.66,155.48 L315.10,155.40 L315.53,155.31 L315.97,155.24 L316.41,155.16 L316.85,155.08 L317.29,155.01 L317.73,154.94 L318.17,154.87 L318.61,154.80 L319.04,154.74 L319.48,154.67 L319.92,154.61 L320.36,154.55 L320.80,154.49 L321.24,154.43 L321.68,154.37 L322.12,154.31 L322.55,154.26 L322.99,154.20 L323.43,154.14 L323.87,154.09 L324.31,154.04 L324.75,153.98 L325.19,153.93 L325.63,153.88 L326.06,153.83 L326.50,153.78 L326.94,153.73 L327.38,153.68 L327.82,153.64 L328.26,153.59 L328.70,153.55 L329.13,153.50 L329.57,153.46 L330.01,153.41 L330.45,153.37 L330.89,153.33 L331.33,153.29 L331.77,153.25 L332.21,153.21 L332.64,153.17 L333.08,153.14 L333.52,153.10 L333.96,153.07 L334.40,153.03 L334.84,153.00 L335.28,152.96 L335.72,152.93 L336.15,152.90 L336.59,152.86 L337.03,152.83 L337.47,152.80 L337.91,152.77 L338.35,152.73 L338.79,152.70 L339.23,152.67 L339.66,152.64 L340.10,152.61 L340.54,152.58 L340.98,152.55 L341.42,152.51 L341.86,152.48 L342.30,152.45 L342.74,152.42 L343.17,152.39 L343.61,152.36 L344.05,152.34 L344.49,152.31 L344.93,152.28 L345.37,152.25 L345.81,152.22 L346.24,152.19 L346.68,152.17 L347.12,152.14 L347.56,152.11 L348.00,152.09 L348.44,152.06 L348.88,152.04 L349.32,152.01 L349.75,151.99 L350.19,151.96 L350.63,151.94 L351.07,151.91 L351.51,151.89 L351.95,151.87 L352.39,151.85 L352.83,151.83 L353.26,151.80 L353.70,151.78 L354.14,151.76 L354.58,151.74 L355.02,151.72 L355.46,151.71 L355.90,151.69 L356.34,151.67 L356.77,151.65 L357.21,151.64 L357.65,151.62 L358.09,151.60 L358.53,151.59 L358.97,151.57 L359.41,151.56 L359.85,151.55 L360.28,151.53 L360.72,151.52 L361.16,151.51 L361.60,151.50" stroke="#000" stroke-width="1.5" fill="none" stroke-dasharray="1.3 2.1"/>
<path d="M204.10,-71.56 L204.54,-63.43 L204.98,-55.41 L205.42,-47.54 L205.85,-39.81 L206.29,-32.23 L206.73,-24.80 L207.17,-17.51 L207.61,-10.39 L208.05,-3.44 L208.49,3.35 L208.93,9.96 L209.36,16.41 L209.80,22.68 L210.24,28.77 L210.68,34.67 L211.12,40.41 L211.56,45.96 L212.00,51.33 L212.44,56.51 L212.87,61.50 L213.31,66.33 L213.75,70.97 L214.19,75.43 L214.63,79.71 L215.07,83.81 L215.51,87.73 L215.95,91.49 L216.38,95.10 L216.82,98.57 L217.26,101.79 L217.70,104.76 L218.14,107.53 L218.58,110.12 L219.02,112.55 L219.46,114.87 L219.89,117.07 L220.33,119.18 L220.77,121.21 L221.21,123.18 L221.65,125.09 L222.09,126.95 L222.53,128.76 L222.96,130.54 L223.40,132.28 L223.84,133.99 L224.28,135.67 L224.72,137.33 L225.16,139.05 L225.60,141.04 L226.04,142.96 L226.47,144.62 L226.91,146.20 L227.35,147.63 L227.79,148.83 L228.23,149.84 L228.67,150.74 L229.11,151.54 L229.55,152.24 L229.98,152.86 L230.42,153.48 L230.86,154.12 L231.30,154.77 L231.74,155.42 L232.18,156.09 L232.62,156.75 L233.06,157.42 L233.49,158.09 L233.93,158.75 L234.37,159.41 L234.81,160.08 L235.25,160.77 L235.69,161.46 L236.13,162.14 L236.57,162.80 L237.00,163.43 L237.44,164.03 L237.88,164.59 L238.32,165.16 L238.76,165.71 L239.20,166.25 L239.64,166.75 L240.07,167.21 L240.51,167.61 L240.95,167.94 L241.39,168.22 L241.83,168.50 L242.27,168.76 L242.71,169.01 L243.15,169.24 L243.58,169.46 L244.02,169.66 L244.46,169.83 L244.90,169.99 L245.34,170.13 L245.78,170.25 L246.22,170.35 L246.66,170.44 L247.09,170.53 L247.53,170.62 L247.97,170.70 L248.41,170.77 L248.85,170.84 L249.29,170.89 L249.73,170.94 L250.17,170.97 L250.60,170.99 L251.04,171.00 L251.48,171.00 L251.92,170.99 L252.36,170.97 L252.80,170.96 L253.24,170.93 L253.68,170.91 L254.11,170.88 L254.55,170.85 L254.99,170.81 L255.43,170.78 L255.87,170.74 L256.31,170.70 L256.75,170.65 L257.18,170.58 L257.62,170.50 L258.06,170.41 L258.50,170.30 L258.94,170.19 L259.38,170.06 L259.82,169.94 L260.26,169.81 L260.69,169.68 L261.13,169.55 L261.57,169.42 L262.01,169.30 L262.45,169.18 L262.89,169.05 L263.33,168.92 L263.77,168.79 L264.20,168.66 L264.64,168.53 L265.08,168.39 L265.52,168.26 L265.96,168.12 L266.40,167.98 L266.84,167.84 L267.28,167.70 L267.71,167.55 L268.15,167.41 L268.59,167.26 L269.03,167.12 L269.47,166.98 L269.91,166.83 L270.35,166.68 L270.79,166.54 L271.22,166.39 L271.66,166.24 L272.10,166.08 L272.54,165.93 L272.98,165.78 L273.42,165.62 L273.86,165.46 L274.29,165.31 L274.73,165.15 L275.17,164.99 L275.61,164.84 L276.05,164.68 L276.49,164.52 L276.93,164.36 L277.37,164.21 L277.80,164.05 L278.24,163.89 L278.68,163.74 L279.12,163.58 L279.56,163.43 L280.00,163.28 L280.44,163.13 L280.88,162.98 L281.31,162.83 L281.75,162.68 L282.19,162.54 L282.63,162.40 L283.07,162.25 L283.51,162.12 L283.95,161.98 L284.39,161.84 L284.82,161.71 L285.26,161.57 L285.70,161.44 L286.14,161.30 L286.58,161.17 L287.02,161.04 L287.46,160.91 L287.90,160.78 L288.33,160.65 L288.77,160.53 L289.21,160.41 L289.65,160.29 L290.09,160.18 L290.53,160.07 L290.97,159.96 L291.41,159.85 L291.84,159.75 L292.28,159.64 L292.72,159.54 L293.16,159.44 L293.60,159.35 L294.04,159.25 L294.48,159.15 L294.91,159.05 L295.35,158.95 L295.79,158.85 L296.23,158.75 L296.67,158.64 L297.11,158.54 L297.55,158.44 L297.99,158.33 L298.42,158.23 L298.86,158.12 L299.30,158.02 L299.74,157.92 L300.18,157.82 L300.62,157.71 L301.06,157.61 L301.50,157.51 L301.93,157.41 L302.37,157.32 L302.81,157.22 L303.25,157.12 L303.69,157.02 L304.13,156.92 L304.57,156.82 L305.01,156.73 L305.44,156.63 L305.88,156.54 L306.32,156.44 L306.76,156.35 L307.20,156.27 L307.64,156.18 L308.08,156.10 L308.52,156.02 L308.95,155.94 L309.39,155.86 L309.83,155.78 L310.27,155.71 L310.71,155.63 L311.15,155.56 L311.59,155.49 L312.02,155.41 L312.46,155.34 L312.90,155.27 L313.34,155.20 L313.78,155.13 L314.22,155.07 L314.66,155.00 L315.10,154.94 L315.53,154.87 L315.97,154.81 L316.41,154.75 L316.85,154.69 L317.29,154.63 L317.73,154.57 L318.17,154.52 L318.61,154.46 L319.04,154.41 L319.48,154.36 L319.92,154.31 L320.36,154.26 L320.80,154.21 L321.24,154.16 L321.68,154.12 L322.12,154.07 L322.55,154.03 L322.99,153.98 L323.43,153.94 L323.87,153.90 L324.31,153.85 L324.75,153.81 L325.19,153.77 L325.63,153.73 L326.06,153.69 L326.50,153.65 L326.94,153.61 L327.38,153.57 L327.82,153.54 L328.26,153.50 L328.70,153.46 L329.13,153.43 L329.57,153.39 L330.01,153.36 L330.45,153.32 L330.89,153.29 L331.33,153.25 L331.77,153.22 L332.21,153.19 L332.64,153.15 L333.08,153.12 L333.52,153.09 L333.96,153.06 L334.40,153.03 L334.84,153.00 L335.28,152.97 L335.72,152.94 L336.15,152.91 L336.59,152.88 L337.03,152.85 L337.47,152.82 L337.91,152.79 L338.35,152.76 L338.79,152.73 L339.23,152.70 L339.66,152.67 L340.10,152.64 L340.54,152.61 L340.98,152.58 L341.42,152.55 L341.86,152.52 L342.30,152.50 L342.74,152.47 L343.17,152.44 L343.61,152.41 L344.05,152.39 L344.49,152.36 L344.93,152.33 L345.37,152.31 L345.81,152.28 L346.24,152.25 L346.68,152.23 L347.12,152.20 L347.56,152.17 L348.00,152.15 L348.44,152.12 L348.88,152.10 L349.32,152.07 L349.75,152.05 L350.19,152.03 L350.63,152.00 L351.07,151.98 L351.51,151.96 L351.95,151.93 L352.39,151.91 L352.83,151.89 L353.26,151.86 L353.70,151.84 L354.14,151.82 L354.58,151.80 L355.02,151.78 L355.46,151.76 L355.90,151.74 L356.34,151.72 L356.77,151.70 L357.21,151.68 L357.65,151.66 L358.09,151.64 L358.53,151.62 L358.97,151.60 L359.41,151.58 L359.85,151.57 L360.28,151.55 L360.72,151.53 L361.16,151.52 L361.60,151.50" stroke="#000" stroke-width="1.5" fill="none"/>
<path d="M204.10,-201.47 L204.54,-191.53 L204.98,-181.78 L205.42,-172.21 L205.85,-162.82 L206.29,-153.59 L206.73,-144.53 L207.17,-135.65 L207.61,-126.93 L208.05,-118.36 L208.49,-109.96 L208.93,-101.71 L209.36,-93.63 L209.80,-85.70 L210.24,-77.92 L210.68,-70.29 L211.12,-62.81 L211.56,-55.49 L212.00,-48.31 L212.44,-41.28 L212.87,-34.41 L213.31,-27.68 L213.75,-21.10 L214.19,-14.66 L214.63,-8.38 L215.07,-2.24 L215.51,3.76 L215.95,9.61 L216.38,15.31 L216.82,20.86 L217.26,26.28 L217.70,31.54 L218.14,36.67 L218.58,41.65 L219.02,46.48 L219.46,51.18 L219.89,55.74 L220.33,60.15 L220.77,64.43 L221.21,68.56 L221.65,72.56 L222.09,76.43 L222.53,80.16 L222.96,83.76 L223.40,87.19 L223.84,90.45 L224.28,93.62 L224.72,96.74 L225.16,99.86 L225.60,102.90 L226.04,105.82 L226.47,108.62 L226.91,111.30 L227.35,113.86 L227.79,116.32 L228.23,118.67 L228.67,120.93 L229.11,123.09 L229.55,125.15 L229.98,127.13 L230.42,129.02 L230.86,130.83 L231.30,132.57 L231.74,134.23 L232.18,135.83 L232.62,137.37 L233.06,138.88 L233.49,140.42 L233.93,141.96 L234.37,143.48 L234.81,144.95 L235.25,146.35 L235.69,147.67 L236.13,148.95 L236.57,150.23 L237.00,151.50 L237.44,152.72 L237.88,153.85 L238.32,154.91 L238.76,155.95 L239.20,156.96 L239.64,157.96 L240.07,158.94 L240.51,159.89 L240.95,160.81 L241.39,161.73 L241.83,162.64 L242.27,163.56 L242.71,164.46 L243.15,165.33 L243.58,166.16 L244.02,166.94 L244.46,167.66 L244.90,168.30 L245.34,168.90 L245.78,169.46 L246.22,170.02 L246.66,170.60 L247.09,171.22 L247.53,171.89 L247.97,172.56 L248.41,173.19 L248.85,173.74 L249.29,174.22 L249.73,174.69 L250.17,175.14 L250.60,175.57 L251.04,175.98 L251.48,176.36 L251.92,176.71 L252.36,177.04 L252.80,177.32 L253.24,177.57 L253.68,177.81 L254.11,178.03 L254.55,178.24 L254.99,178.43 L255.43,178.62 L255.87,178.79 L256.31,178.96 L256.75,179.11 L257.18,179.25 L257.62,179.39 L258.06,179.51 L258.50,179.63 L258.94,179.73 L259.38,179.83 L259.82,179.93 L260.26,180.02 L260.69,180.10 L261.13,180.17 L261.57,180.24 L262.01,180.30 L262.45,180.36 L262.89,180.42 L263.33,180.49 L263.77,180.54 L264.20,180.59 L264.64,180.64 L265.08,180.67 L265.52,180.69 L265.96,180.70 L266.40,180.69 L266.84,180.67 L267.28,180.63 L267.71,180.59 L268.15,180.53 L268.59,180.46 L269.03,180.38 L269.47,180.30 L269.91,180.20 L270.35,180.10 L270.79,179.99 L271.22,179.87 L271.66,179.75 L272.10,179.63 L272.54,179.50 L272.98,179.37 L273.42,179.23 L273.86,179.10 L274.29,178.96 L274.73,178.82 L275.17,178.68 L275.61,178.55 L276.05,178.41 L276.49,178.28 L276.93,178.15 L277.37,178.02 L277.80,177.89 L278.24,177.75 L278.68,177.60 L279.12,177.46 L279.56,177.30 L280.00,177.14 L280.44,176.98 L280.88,176.82 L281.31,176.65 L281.75,176.48 L282.19,176.30 L282.63,176.13 L283.07,175.95 L283.51,175.77 L283.95,175.59 L284.39,175.41 L284.82,175.23 L285.26,175.05 L285.70,174.88 L286.14,174.70 L286.58,174.52 L287.02,174.34 L287.46,174.17 L287.90,174.00 L288.33,173.83 L288.77,173.66 L289.21,173.49 L289.65,173.32 L290.09,173.16 L290.53,172.99 L290.97,172.83 L291.41,172.66 L291.84,172.49 L292.28,172.32 L292.72,172.15 L293.16,171.98 L293.60,171.81 L294.04,171.63 L294.48,171.45 L294.91,171.27 L295.35,171.08 L295.79,170.89 L296.23,170.70 L296.67,170.49 L297.11,170.28 L297.55,170.06 L297.99,169.84 L298.42,169.61 L298.86,169.38 L299.30,169.15 L299.74,168.92 L300.18,168.69 L300.62,168.47 L301.06,168.25 L301.50,168.04 L301.93,167.83 L302.37,167.63 L302.81,167.43 L303.25,167.23 L303.69,167.04 L304.13,166.85 L304.57,166.65 L305.01,166.46 L305.44,166.27 L305.88,166.09 L306.32,165.90 L306.76,165.72 L307.20,165.54 L307.64,165.36 L308.08,165.18 L308.52,165.00 L308.95,164.83 L309.39,164.65 L309.83,164.48 L310.27,164.32 L310.71,164.15 L311.15,163.98 L311.59,163.82 L312.02,163.66 L312.46,163.50 L312.90,163.34 L313.34,163.19 L313.78,163.04 L314.22,162.89 L314.66,162.74 L315.10,162.59 L315.53,162.45 L315.97,162.30 L316.41,162.16 L316.85,162.03 L317.29,161.89 L317.73,161.75 L318.17,161.62 L318.61,161.49 L319.04,161.35 L319.48,161.22 L319.92,161.10 L320.36,160.97 L320.80,160.84 L321.24,160.72 L321.68,160.59 L322.12,160.47 L322.55,160.35 L322.99,160.23 L323.43,160.11 L323.87,160.00 L324.31,159.88 L324.75,159.77 L325.19,159.65 L325.63,159.54 L326.06,159.43 L326.50,159.32 L326.94,159.21 L327.38,159.11 L327.82,159.00 L328.26,158.89 L328.70,158.79 L329.13,158.69 L329.57,158.59 L330.01,158.49 L330.45,158.39 L330.89,158.29 L331.33,158.19 L331.77,158.09 L332.21,158.00 L332.64,157.90 L333.08,157.80 L333.52,157.71 L333.96,157.61 L334.40,157.52 L334.84,157.42 L335.28,157.33 L335.72,157.24 L336.15,157.15 L336.59,157.05 L337.03,156.96 L337.47,156.87 L337.91,156.79 L338.35,156.70 L338.79,156.61 L339.23,156.53 L339.66,156.44 L340.10,156.36 L340.54,156.28 L340.98,156.20 L341.42,156.12 L341.86,156.04 L342.30,155.97 L342.74,155.89 L343.17,155.82 L343.61,155.75 L344.05,155.68 L344.49,155.61 L344.93,155.54 L345.37,155.47 L345.81,155.41 L346.24,155.35 L346.68,155.29 L347.12,155.23 L347.56,155.17 L348.00,155.11 L348.44,155.06 L348.88,155.00 L349.32,154.94 L349.75,154.89 L350.19,154.83 L350.63,154.78 L351.07,154.72 L351.51,154.67 L351.95,154.62 L352.39,154.57 L352.83,154.52 L353.26,154.47 L353.70,154.42 L354.14,154.37 L354.58,154.33 L355.02,154.28 L355.46,154.23 L355.90,154.19 L356.34,154.15 L356.77,154.10 L357.21,154.06 L357.65,154.02 L358.09,153.98 L358.53,153.94 L358.97,153.91 L359.41,153.87 L359.85,153.83 L360.28,153.80 L360.72,153.76 L361.16,153.73 L361.60,153.70" stroke="#0000ff" stroke-width="1.7" fill="none" stroke-dasharray="4.5 1.3"/>
<path d="M204.10,-102.64 L204.54,-93.12 L204.98,-83.87 L205.42,-74.89 L205.85,-66.17 L206.29,-57.71 L206.73,-49.50 L207.17,-41.54 L207.61,-33.83 L208.05,-26.35 L208.49,-19.11 L208.93,-12.10 L209.36,-5.31 L209.80,1.26 L210.24,7.61 L210.68,13.75 L211.12,19.69 L211.56,25.42 L212.00,30.96 L212.44,36.30 L212.87,41.45 L213.31,46.43 L213.75,51.22 L214.19,55.83 L214.63,60.28 L215.07,64.55 L215.51,68.67 L215.95,72.63 L216.38,76.43 L216.82,80.07 L217.26,83.40 L217.70,86.54 L218.14,89.69 L218.58,93.01 L219.02,96.60 L219.46,100.44 L219.89,104.42 L220.33,108.41 L220.77,112.33 L221.21,116.09 L221.65,119.65 L222.09,122.97 L222.53,126.04 L222.96,128.86 L223.40,131.41 L223.84,133.72 L224.28,135.80 L224.72,137.66 L225.16,139.33 L225.60,140.80 L226.04,142.10 L226.47,143.24 L226.91,144.26 L227.35,145.22 L227.79,146.16 L228.23,147.13 L228.67,148.17 L229.11,149.31 L229.55,150.55 L229.98,151.84 L230.42,153.16 L230.86,154.46 L231.30,155.71 L231.74,156.85 L232.18,157.98 L232.62,159.12 L233.06,160.25 L233.49,161.38 L233.93,162.48 L234.37,163.53 L234.81,164.51 L235.25,165.41 L235.69,166.31 L236.13,167.20 L236.57,168.06 L237.00,168.87 L237.44,169.60 L237.88,170.23 L238.32,170.73 L238.76,171.11 L239.20,171.46 L239.64,171.78 L240.07,172.07 L240.51,172.34 L240.95,172.58 L241.39,172.79 L241.83,172.99 L242.27,173.17 L242.71,173.34 L243.15,173.51 L243.58,173.67 L244.02,173.84 L244.46,174.00 L244.90,174.15 L245.34,174.29 L245.78,174.41 L246.22,174.51 L246.66,174.60 L247.09,174.66 L247.53,174.69 L247.97,174.70 L248.41,174.70 L248.85,174.70 L249.29,174.70 L249.73,174.70 L250.17,174.70 L250.60,174.70 L251.04,174.70 L251.48,174.70 L251.92,174.70 L252.36,174.70 L252.80,174.70 L253.24,174.70 L253.68,174.68 L254.11,174.63 L254.55,174.57 L254.99,174.48 L255.43,174.38 L255.87,174.28 L256.31,174.16 L256.75,174.04 L257.18,173.92 L257.62,173.80 L258.06,173.68 L258.50,173.58 L258.94,173.47 L259.38,173.36 L259.82,173.24 L260.26,173.12 L260.69,172.99 L261.13,172.87 L261.57,172.73 L262.01,172.60 L262.45,172.46 L262.89,172.31 L263.33,172.16 L263.77,172.00 L264.20,171.85 L264.64,171.69 L265.08,171.52 L265.52,171.36 L265.96,171.19 L266.40,171.02 L266.84,170.85 L267.28,170.67 L267.71,170.50 L268.15,170.33 L268.59,170.15 L269.03,169.98 L269.47,169.81 L269.91,169.64 L270.35,169.46 L270.79,169.29 L271.22,169.12 L271.66,168.94 L272.10,168.76 L272.54,168.58 L272.98,168.40 L273.42,168.22 L273.86,168.04 L274.29,167.85 L274.73,167.67 L275.17,167.49 L275.61,167.31 L276.05,167.12 L276.49,166.94 L276.93,166.76 L277.37,166.58 L277.80,166.40 L278.24,166.23 L278.68,166.05 L279.12,165.87 L279.56,165.70 L280.00,165.53 L280.44,165.36 L280.88,165.19 L281.31,165.03 L281.75,164.86 L282.19,164.70 L282.63,164.54 L283.07,164.39 L283.51,164.24 L283.95,164.09 L284.39,163.94 L284.82,163.79 L285.26,163.66 L285.70,163.52 L286.14,163.39 L286.58,163.25 L287.02,163.13 L287.46,163.00 L287.90,162.87 L288.33,162.75 L288.77,162.63 L289.21,162.51 L289.65,162.38 L290.09,162.26 L290.53,162.14 L290.97,162.02 L291.41,161.89 L291.84,161.77 L292.28,161.65 L292.72,161.52 L293.16,161.39 L293.60,161.26 L294.04,161.13 L294.48,160.99 L294.91,160.85 L295.35,160.71 L295.79,160.57 L296.23,160.42 L296.67,160.26 L297.11,160.09 L297.55,159.92 L297.99,159.74 L298.42,159.55 L298.86,159.36 L299.30,159.17 L299.74,158.97 L300.18,158.78 L300.62,158.59 L301.06,158.40 L301.50,158.21 L301.93,158.03 L302.37,157.86 L302.81,157.69 L303.25,157.53 L303.69,157.38 L304.13,157.24 L304.57,157.11 L305.01,157.00 L305.44,156.89 L305.88,156.79 L306.32,156.68 L306.76,156.58 L307.20,156.48 L307.64,156.39 L308.08,156.30 L308.52,156.20 L308.95,156.12 L309.39,156.03 L309.83,155.94 L310.27,155.86 L310.71,155.78 L311.15,155.70 L311.59,155.62 L312.02,155.55 L312.46,155.47 L312.90,155.40 L313.34,155.33 L313.78,155.26 L314.22,155.19 L314.66,155.12 L315.10,155.06 L315.53,154.99 L315.97,154.93 L316.41,154.87 L316.85,154.81 L317.29,154.75 L317.73,154.69 L318.17,154.63 L318.61,154.57 L319.04,154.52 L319.48,154.46 L319.92,154.41 L320.36,154.36 L320.80,154.30 L321.24,154.25 L321.68,154.20 L322.12,154.15 L322.55,154.10 L322.99,154.05 L323.43,154.01 L323.87,153.96 L324.31,153.91 L324.75,153.87 L325.19,153.82 L325.63,153.78 L326.06,153.74 L326.50,153.69 L326.94,153.65 L327.38,153.61 L327.82,153.57 L328.26,153.53 L328.70,153.49 L329.13,153.45 L329.57,153.41 L330.01,153.38 L330.45,153.34 L330.89,153.30 L331.33,153.27 L331.77,153.23 L332.21,153.20 L332.64,153.16 L333.08,153.13 L333.52,153.09 L333.96,153.06 L334.40,153.03 L334.84,153.00 L335.28,152.97 L335.72,152.93 L336.15,152.90 L336.59,152.87 L337.03,152.84 L337.47,152.81 L337.91,152.78 L338.35,152.75 L338.79,152.72 L339.23,152.69 L339.66,152.66 L340.10,152.63 L340.54,152.60 L340.98,152.57 L341.42,152.54 L341.86,152.51 L342.30,152.48 L342.74,152.45 L343.17,152.42 L343.61,152.40 L344.05,152.37 L344.49,152.34 L344.93,152.31 L345.37,152.29 L345.81,152.26 L346.24,152.23 L346.68,152.21 L347.12,152.18 L347.56,152.15 L348.00,152.13 L348.44,152.10 L348.88,152.08 L349.32,152.05 L349.75,152.03 L350.19,152.00 L350.63,151.98 L351.07,151.96 L351.51,151.93 L351.95,151.91 L352.39,151.89 L352.83,151.87 L353.26,151.84 L353.70,151.82 L354.14,151.80 L354.58,151.78 L355.02,151.76 L355.46,151.74 L355.90,151.72 L356.34,151.70 L356.77,151.68 L357.21,151.66 L357.65,151.65 L358.09,151.63 L358.53,151.61 L358.97,151.59 L359.41,151.58 L359.85,151.56 L360.28,151.54 L360.72,151.53 L361.16,151.51 L361.60,151.50" stroke="#00ffff" stroke-width="1.7" fill="none" stroke-dasharray="10.4 2.2"/>
<path d="M204.10,-120.60 L204.54,-111.24 L204.98,-102.14 L205.42,-93.28 L205.85,-84.67 L206.29,-76.29 L206.73,-68.15 L207.17,-60.24 L207.61,-52.55 L208.05,-45.08 L208.49,-37.83 L208.93,-30.78 L209.36,-23.94 L209.80,-17.31 L210.24,-10.87 L210.68,-4.63 L211.12,1.42 L211.56,7.29 L212.00,12.97 L212.44,18.48 L212.87,23.81 L213.31,28.97 L213.75,33.96 L214.19,38.79 L214.63,43.46 L215.07,47.97 L215.51,52.33 L215.95,56.55 L216.38,60.61 L216.82,64.54 L217.26,68.33 L217.70,71.98 L218.14,75.50 L218.58,78.89 L219.02,82.13 L219.46,85.11 L219.89,87.96 L220.33,90.85 L220.77,93.90 L221.21,97.14 L221.65,100.41 L222.09,103.66 L222.53,106.88 L222.96,110.03 L223.40,113.09 L223.84,116.05 L224.28,118.91 L224.72,121.64 L225.16,124.24 L225.60,126.71 L226.04,129.05 L226.47,131.26 L226.91,133.35 L227.35,135.33 L227.79,137.19 L228.23,138.96 L228.67,140.65 L229.11,142.44 L229.55,144.27 L229.98,146.08 L230.42,147.80 L230.86,149.39 L231.30,150.81 L231.74,152.13 L232.18,153.40 L232.62,154.63 L233.06,155.84 L233.49,157.02 L233.93,158.19 L234.37,159.36 L234.81,160.53 L235.25,161.70 L235.69,162.89 L236.13,164.13 L236.57,165.43 L237.00,166.75 L237.44,167.99 L237.88,169.06 L238.32,169.94 L238.76,170.72 L239.20,171.40 L239.64,172.04 L240.07,172.65 L240.51,173.25 L240.95,173.83 L241.39,174.39 L241.83,174.94 L242.27,175.48 L242.71,175.99 L243.15,176.49 L243.58,176.97 L244.02,177.43 L244.46,177.87 L244.90,178.29 L245.34,178.71 L245.78,179.12 L246.22,179.52 L246.66,179.91 L247.09,180.29 L247.53,180.65 L247.97,181.00 L248.41,181.32 L248.85,181.63 L249.29,181.91 L249.73,182.16 L250.17,182.38 L250.60,182.60 L251.04,182.80 L251.48,183.00 L251.92,183.19 L252.36,183.37 L252.80,183.54 L253.24,183.69 L253.68,183.83 L254.11,183.96 L254.55,184.07 L254.99,184.16 L255.43,184.24 L255.87,184.31 L256.31,184.39 L256.75,184.46 L257.18,184.52 L257.62,184.59 L258.06,184.64 L258.50,184.69 L258.94,184.73 L259.38,184.76 L259.82,184.79 L260.26,184.80 L260.69,184.80 L261.13,184.80 L261.57,184.80 L262.01,184.80 L262.45,184.80 L262.89,184.80 L263.33,184.79 L263.77,184.75 L264.20,184.68 L264.64,184.58 L265.08,184.46 L265.52,184.32 L265.96,184.17 L266.40,184.00 L266.84,183.82 L267.28,183.63 L267.71,183.44 L268.15,183.25 L268.59,183.06 L269.03,182.88 L269.47,182.70 L269.91,182.53 L270.35,182.37 L270.79,182.21 L271.22,182.05 L271.66,181.88 L272.10,181.71 L272.54,181.54 L272.98,181.36 L273.42,181.19 L273.86,181.01 L274.29,180.83 L274.73,180.66 L275.17,180.48 L275.61,180.30 L276.05,180.12 L276.49,179.95 L276.93,179.77 L277.37,179.59 L277.80,179.42 L278.24,179.24 L278.68,179.07 L279.12,178.90 L279.56,178.72 L280.00,178.55 L280.44,178.38 L280.88,178.20 L281.31,178.03 L281.75,177.86 L282.19,177.68 L282.63,177.51 L283.07,177.34 L283.51,177.16 L283.95,176.99 L284.39,176.81 L284.82,176.64 L285.26,176.46 L285.70,176.29 L286.14,176.11 L286.58,175.94 L287.02,175.76 L287.46,175.58 L287.90,175.41 L288.33,175.23 L288.77,175.05 L289.21,174.88 L289.65,174.70 L290.09,174.54 L290.53,174.37 L290.97,174.20 L291.41,174.03 L291.84,173.86 L292.28,173.68 L292.72,173.51 L293.16,173.32 L293.60,173.14 L294.04,172.95 L294.48,172.75 L294.91,172.54 L295.35,172.33 L295.79,172.11 L296.23,171.87 L296.67,171.61 L297.11,171.33 L297.55,171.03 L297.99,170.71 L298.42,170.38 L298.86,170.05 L299.30,169.71 L299.74,169.38 L300.18,169.06 L300.62,168.75 L301.06,168.46 L301.50,168.19 L301.93,167.94 L302.37,167.70 L302.81,167.47 L303.25,167.25 L303.69,167.03 L304.13,166.82 L304.57,166.61 L305.01,166.41 L305.44,166.21 L305.88,166.02 L306.32,165.83 L306.76,165.64 L307.20,165.45 L307.64,165.27 L308.08,165.10 L308.52,164.92 L308.95,164.75 L309.39,164.58 L309.83,164.42 L310.27,164.25 L310.71,164.09 L311.15,163.93 L311.59,163.78 L312.02,163.62 L312.46,163.47 L312.90,163.32 L313.34,163.17 L313.78,163.02 L314.22,162.88 L314.66,162.73 L315.10,162.59 L315.53,162.45 L315.97,162.30 L316.41,162.16 L316.85,162.02 L317.29,161.89 L317.73,161.75 L318.17,161.62 L318.61,161.48 L319.04,161.35 L319.48,161.22 L319.92,161.09 L320.36,160.96 L320.80,160.84 L321.24,160.71 L321.68,160.59 L322.12,160.47 L322.55,160.35 L322.99,160.23 L323.43,160.11 L323.87,159.99 L324.31,159.88 L324.75,159.76 L325.19,159.65 L325.63,159.54 L326.06,159.43 L326.50,159.32 L326.94,159.21 L327.38,159.10 L327.82,159.00 L328.26,158.89 L328.70,158.79 L329.13,158.69 L329.57,158.59 L330.01,158.49 L330.45,158.39 L330.89,158.29 L331.33,158.19 L331.77,158.09 L332.21,158.00 L332.64,157.90 L333.08,157.80 L333.52,157.71 L333.96,157.61 L334.40,157.52 L334.84,157.42 L335.28,157.33 L335.72,157.24 L336.15,157.15 L336.59,157.05 L337.03,156.96 L337.47,156.87 L337.91,156.79 L338.35,156.70 L338.79,156.61 L339.23,156.53 L339.66,156.44 L340.10,156.36 L340.54,156.28 L340.98,156.20 L341.42,156.12 L341.86,156.04 L342.30,155.97 L342.74,155.89 L343.17,155.82 L343.61,155.75 L344.05,155.68 L344.49,155.61 L344.93,155.54 L345.37,155.47 L345.81,155.41 L346.24,155.35 L346.68,155.29 L347.12,155.23 L347.56,155.17 L348.00,155.11 L348.44,155.06 L348.88,155.00 L349.32,154.94 L349.75,154.89 L350.19,154.83 L350.63,154.78 L351.07,154.72 L351.51,154.67 L351.95,154.62 L352.39,154.57 L352.83,154.52 L353.26,154.47 L353.70,154.42 L354.14,154.37 L354.58,154.33 L355.02,154.28 L355.46,154.23 L355.90,154.19 L356.34,154.15 L356.77,154.10 L357.21,154.06 L357.65,154.02 L358.09,153.98 L358.53,153.94 L358.97,153.91 L359.41,153.87 L359.85,153.83 L360.28,153.80 L360.72,153.76 L361.16,153.73 L361.60,153.70" stroke="#ee82ee" stroke-width="1.6" fill="none" stroke-dasharray="8.8 2.2 1.2 2.2"/>
<path d="M204.10,-157.85 L204.54,-149.93 L204.98,-142.19 L205.42,-134.63 L205.85,-127.25 L206.29,-120.04 L206.73,-113.01 L207.17,-106.14 L207.61,-99.44 L208.05,-92.90 L208.49,-86.51 L208.93,-80.27 L209.36,-74.19 L209.80,-68.25 L210.24,-62.46 L210.68,-56.81 L211.12,-51.29 L211.56,-45.91 L212.00,-40.66 L212.44,-35.54 L212.87,-30.54 L213.31,-25.67 L213.75,-20.91 L214.19,-16.28 L214.63,-11.76 L215.07,-7.35 L215.51,-3.05 L215.95,1.14 L216.38,5.23 L216.82,9.21 L217.26,13.09 L217.70,16.88 L218.14,20.57 L218.58,24.16 L219.02,27.67 L219.46,31.08 L219.89,34.41 L220.33,37.65 L220.77,40.81 L221.21,43.89 L221.65,46.89 L222.09,49.81 L222.53,52.65 L222.96,55.42 L223.40,58.12 L223.84,60.75 L224.28,63.30 L224.72,65.80 L225.16,68.22 L225.60,70.58 L226.04,72.88 L226.47,75.12 L226.91,77.30 L227.35,79.41 L227.79,81.48 L228.23,83.48 L228.67,85.44 L229.11,87.34 L229.55,89.20 L229.98,91.04 L230.42,92.84 L230.86,94.54 L231.30,96.12 L231.74,97.56 L232.18,98.90 L232.62,100.16 L233.06,101.36 L233.49,102.50 L233.93,103.62 L234.37,104.71 L234.81,105.79 L235.25,106.87 L235.69,107.97 L236.13,109.10 L236.57,110.23 L237.00,111.32 L237.44,112.31 L237.88,113.25 L238.32,114.14 L238.76,114.97 L239.20,115.73 L239.64,116.43 L240.07,117.06 L240.51,117.62 L240.95,118.17 L241.39,118.75 L241.83,119.32 L242.27,119.83 L242.71,120.25 L243.15,120.55 L243.58,120.69 L244.02,120.69 L244.46,120.63 L244.90,120.52 L245.34,120.38 L245.78,120.21 L246.22,120.01 L246.66,119.80 L247.09,119.57 L247.53,119.34 L247.97,119.11 L248.41,118.88 L248.85,118.67 L249.29,118.46 L249.73,118.22 L250.17,117.96 L250.60,117.67 L251.04,117.37 L251.48,117.08 L251.92,116.79 L252.36,116.53 L252.80,116.30 L253.24,116.11 L253.68,115.98 L254.11,115.91 L254.55,115.92 L254.99,116.02 L255.43,116.21 L255.87,116.47 L256.31,116.81 L256.75,117.20 L257.18,117.64 L257.62,118.12 L258.06,118.63 L258.50,119.16 L258.94,119.74 L259.38,120.59 L259.82,121.66 L260.26,122.87 L260.69,124.15 L261.13,125.44 L261.57,126.69 L262.01,127.84 L262.45,128.90 L262.89,129.99 L263.33,131.09 L263.77,132.17 L264.20,133.20 L264.64,134.16 L265.08,135.03 L265.52,135.78 L265.96,136.42 L266.40,137.02 L266.84,137.58 L267.28,138.12 L267.71,138.62 L268.15,139.08 L268.59,139.50 L269.03,139.87 L269.47,140.19 L269.91,140.46 L270.35,140.66 L270.79,140.85 L271.22,141.02 L271.66,141.18 L272.10,141.33 L272.54,141.46 L272.98,141.59 L273.42,141.71 L273.86,141.82 L274.29,141.93 L274.73,142.03 L275.17,142.13 L275.61,142.22 L276.05,142.31 L276.49,142.40 L276.93,142.48 L277.37,142.57 L277.80,142.66 L278.24,142.74 L278.68,142.83 L279.12,142.93 L279.56,143.02 L280.00,143.11 L280.44,143.20 L280.88,143.29 L281.31,143.38 L281.75,143.46 L282.19,143.55 L282.63,143.63 L283.07,143.71 L283.51,143.80 L283.95,143.87 L284.39,143.95 L284.82,144.03 L285.26,144.10 L285.70,144.17 L286.14,144.24 L286.58,144.31 L287.02,144.37 L287.46,144.44 L287.90,144.50 L288.33,144.56 L288.77,144.62 L289.21,144.69 L289.65,144.76 L290.09,144.82 L290.53,144.89 L290.97,144.95 L291.41,145.01 L291.84,145.07 L292.28,145.13 L292.72,145.19 L293.16,145.23 L293.60,145.28 L294.04,145.32 L294.48,145.35 L294.91,145.37 L295.35,145.39 L295.79,145.40 L296.23,145.40 L296.67,145.39 L297.11,145.37 L297.55,145.34 L297.99,145.31 L298.42,145.27 L298.86,145.22 L299.30,145.17 L299.74,145.12 L300.18,145.06 L300.62,145.00 L301.06,144.93 L301.50,144.87 L301.93,144.80 L302.37,144.74 L302.81,144.68 L303.25,144.62 L303.69,144.56 L304.13,144.51 L304.57,144.46 L305.01,144.41 L305.44,144.37 L305.88,144.34 L306.32,144.32 L306.76,144.31 L307.20,144.30 L307.64,144.31 L308.08,144.35 L308.52,144.40 L308.95,144.47 L309.39,144.56 L309.83,144.67 L310.27,144.79 L310.71,144.92 L311.15,145.05 L311.59,145.20 L312.02,145.35 L312.46,145.50 L312.90,145.65 L313.34,145.81 L313.78,145.96 L314.22,146.11 L314.66,146.25 L315.10,146.38 L315.53,146.51 L315.97,146.62 L316.41,146.73 L316.85,146.83 L317.29,146.93 L317.73,147.03 L318.17,147.13 L318.61,147.24 L319.04,147.34 L319.48,147.44 L319.92,147.54 L320.36,147.64 L320.80,147.74 L321.24,147.84 L321.68,147.93 L322.12,148.02 L322.55,148.11 L322.99,148.20 L323.43,148.28 L323.87,148.35 L324.31,148.43 L324.75,148.49 L325.19,148.56 L325.63,148.61 L326.06,148.67 L326.50,148.71 L326.94,148.75 L327.38,148.79 L327.82,148.83 L328.26,148.87 L328.70,148.91 L329.13,148.94 L329.57,148.98 L330.01,149.01 L330.45,149.05 L330.89,149.08 L331.33,149.11 L331.77,149.14 L332.21,149.17 L332.64,149.20 L333.08,149.22 L333.52,149.25 L333.96,149.28 L334.40,149.30 L334.84,149.33 L335.28,149.35 L335.72,149.37 L336.15,149.40 L336.59,149.42 L337.03,149.44 L337.47,149.46 L337.91,149.49 L338.35,149.51 L338.79,149.53 L339.23,149.55 L339.66,149.57 L340.10,149.59 L340.54,149.61 L340.98,149.63 L341.42,149.65 L341.86,149.67 L342.30,149.69 L342.74,149.71 L343.17,149.73 L343.61,149.75 L344.05,149.77 L344.49,149.79 L344.93,149.81 L345.37,149.83 L345.81,149.85 L346.24,149.87 L346.68,149.89 L347.12,149.91 L347.56,149.93 L348.00,149.94 L348.44,149.96 L348.88,149.98 L349.32,150.00 L349.75,150.02 L350.19,150.03 L350.63,150.05 L351.07,150.07 L351.51,150.09 L351.95,150.10 L352.39,150.12 L352.83,150.13 L353.26,150.15 L353.70,150.17 L354.14,150.18 L354.58,150.20 L355.02,150.21 L355.46,150.23 L355.90,150.24 L356.34,150.26 L356.77,150.27 L357.21,150.28 L357.65,150.30 L358.09,150.31 L358.53,150.32 L358.97,150.33 L359.41,150.35 L359.85,150.36 L360.28,150.37 L360.72,150.38 L361.16,150.39 L361.60,150.40" stroke="#008000" stroke-width="1.9" fill="none" stroke-dasharray="10.4 2.2"/>
<path d="M204.10,-75.88 L204.54,-68.20 L204.98,-60.65 L205.42,-53.25 L205.85,-45.98 L206.29,-38.85 L206.73,-31.85 L207.17,-24.99 L207.61,-18.28 L208.05,-11.70 L208.49,-5.26 L208.93,1.04 L209.36,7.20 L209.80,13.22 L210.24,19.09 L210.68,24.81 L211.12,30.40 L211.56,35.84 L212.00,41.13 L212.44,46.27 L212.87,51.27 L213.31,56.12 L213.75,60.82 L214.19,65.38 L214.63,69.78 L215.07,74.04 L215.51,78.15 L215.95,82.12 L216.38,85.94 L216.82,89.61 L217.26,93.18 L217.70,96.61 L218.14,99.88 L218.58,102.94 L219.02,105.77 L219.46,108.42 L219.89,110.92 L220.33,113.26 L220.77,115.47 L221.21,117.56 L221.65,119.53 L222.09,121.39 L222.53,123.16 L222.96,124.84 L223.40,126.43 L223.84,127.94 L224.28,129.38 L224.72,130.76 L225.16,132.07 L225.60,133.33 L226.04,134.53 L226.47,135.69 L226.91,136.81 L227.35,137.88 L227.79,138.92 L228.23,139.93 L228.67,140.91 L229.11,141.86 L229.55,142.79 L229.98,143.72 L230.42,144.67 L230.86,145.63 L231.30,146.59 L231.74,147.54 L232.18,148.48 L232.62,149.38 L233.06,150.25 L233.49,151.08 L233.93,151.85 L234.37,152.56 L234.81,153.18 L235.25,153.74 L235.69,154.27 L236.13,154.79 L236.57,155.28 L237.00,155.76 L237.44,156.21 L237.88,156.65 L238.32,157.08 L238.76,157.49 L239.20,157.88 L239.64,158.27 L240.07,158.63 L240.51,158.99 L240.95,159.35 L241.39,159.70 L241.83,160.06 L242.27,160.40 L242.71,160.74 L243.15,161.06 L243.58,161.37 L244.02,161.65 L244.46,161.92 L244.90,162.15 L245.34,162.36 L245.78,162.53 L246.22,162.68 L246.66,162.82 L247.09,162.96 L247.53,163.08 L247.97,163.20 L248.41,163.31 L248.85,163.41 L249.29,163.51 L249.73,163.59 L250.17,163.67 L250.60,163.74 L251.04,163.81 L251.48,163.87 L251.92,163.93 L252.36,163.99 L252.80,164.05 L253.24,164.10 L253.68,164.15 L254.11,164.20 L254.55,164.24 L254.99,164.27 L255.43,164.29 L255.87,164.30 L256.31,164.30 L256.75,164.28 L257.18,164.24 L257.62,164.19 L258.06,164.12 L258.50,164.04 L258.94,163.95 L259.38,163.86 L259.82,163.77 L260.26,163.67 L260.69,163.58 L261.13,163.49 L261.57,163.41 L262.01,163.32 L262.45,163.24 L262.89,163.15 L263.33,163.06 L263.77,162.97 L264.20,162.87 L264.64,162.78 L265.08,162.69 L265.52,162.60 L265.96,162.52 L266.40,162.44 L266.84,162.36 L267.28,162.29 L267.71,162.22 L268.15,162.15 L268.59,162.09 L269.03,162.03 L269.47,161.97 L269.91,161.90 L270.35,161.84 L270.79,161.77 L271.22,161.70 L271.66,161.62 L272.10,161.54 L272.54,161.46 L272.98,161.37 L273.42,161.27 L273.86,161.18 L274.29,161.08 L274.73,160.98 L275.17,160.88 L275.61,160.77 L276.05,160.67 L276.49,160.57 L276.93,160.47 L277.37,160.37 L277.80,160.27 L278.24,160.16 L278.68,160.06 L279.12,159.96 L279.56,159.85 L280.00,159.75 L280.44,159.65 L280.88,159.55 L281.31,159.45 L281.75,159.35 L282.19,159.26 L282.63,159.17 L283.07,159.08 L283.51,158.99 L283.95,158.91 L284.39,158.82 L284.82,158.74 L285.26,158.65 L285.70,158.57 L286.14,158.49 L286.58,158.41 L287.02,158.33 L287.46,158.25 L287.90,158.17 L288.33,158.09 L288.77,158.02 L289.21,157.94 L289.65,157.86 L290.09,157.78 L290.53,157.71 L290.97,157.63 L291.41,157.56 L291.84,157.48 L292.28,157.41 L292.72,157.34 L293.16,157.26 L293.60,157.19 L294.04,157.12 L294.48,157.05 L294.91,156.98 L295.35,156.91 L295.79,156.83 L296.23,156.76 L296.67,156.69 L297.11,156.62 L297.55,156.54 L297.99,156.47 L298.42,156.39 L298.86,156.31 L299.30,156.24 L299.74,156.16 L300.18,156.08 L300.62,156.01 L301.06,155.93 L301.50,155.86 L301.93,155.78 L302.37,155.71 L302.81,155.63 L303.25,155.56 L303.69,155.49 L304.13,155.42 L304.57,155.35 L305.01,155.28 L305.44,155.22 L305.88,155.15 L306.32,155.09 L306.76,155.03 L307.20,154.97 L307.64,154.92 L308.08,154.86 L308.52,154.81 L308.95,154.76 L309.39,154.71 L309.83,154.66 L310.27,154.61 L310.71,154.57 L311.15,154.52 L311.59,154.47 L312.02,154.43 L312.46,154.38 L312.90,154.34 L313.34,154.29 L313.78,154.25 L314.22,154.21 L314.66,154.16 L315.10,154.12 L315.53,154.08 L315.97,154.04 L316.41,154.00 L316.85,153.96 L317.29,153.92 L317.73,153.88 L318.17,153.84 L318.61,153.80 L319.04,153.76 L319.48,153.72 L319.92,153.69 L320.36,153.65 L320.80,153.61 L321.24,153.58 L321.68,153.54 L322.12,153.50 L322.55,153.47 L322.99,153.43 L323.43,153.40 L323.87,153.37 L324.31,153.33 L324.75,153.30 L325.19,153.26 L325.63,153.23 L326.06,153.20 L326.50,153.17 L326.94,153.13 L327.38,153.10 L327.82,153.07 L328.26,153.04 L328.70,153.01 L329.13,152.98 L329.57,152.95 L330.01,152.92 L330.45,152.89 L330.89,152.86 L331.33,152.83 L331.77,152.80 L332.21,152.77 L332.64,152.74 L333.08,152.71 L333.52,152.68 L333.96,152.65 L334.40,152.63 L334.84,152.60 L335.28,152.57 L335.72,152.54 L336.15,152.51 L336.59,152.49 L337.03,152.46 L337.47,152.43 L337.91,152.40 L338.35,152.38 L338.79,152.35 L339.23,152.32 L339.66,152.30 L340.10,152.27 L340.54,152.24 L340.98,152.22 L341.42,152.19 L341.86,152.16 L342.30,152.14 L342.74,152.11 L343.17,152.09 L343.61,152.06 L344.05,152.04 L344.49,152.01 L344.93,151.99 L345.37,151.96 L345.81,151.94 L346.24,151.91 L346.68,151.89 L347.12,151.87 L347.56,151.84 L348.00,151.82 L348.44,151.80 L348.88,151.77 L349.32,151.75 L349.75,151.73 L350.19,151.71 L350.63,151.68 L351.07,151.66 L351.51,151.64 L351.95,151.62 L352.39,151.60 L352.83,151.58 L353.26,151.55 L353.70,151.53 L354.14,151.51 L354.58,151.49 L355.02,151.47 L355.46,151.45 L355.90,151.43 L356.34,151.41 L356.77,151.39 L357.21,151.38 L357.65,151.36 L358.09,151.34 L358.53,151.32 L358.97,151.30 L359.41,151.28 L359.85,151.27 L360.28,151.25 L360.72,151.23 L361.16,151.22 L361.60,151.20" stroke="#a52a2a" stroke-width="1.5" fill="none" stroke-dasharray="4.3 1.3"/>
</g>
<path d="M230.35,140.95 l1.80,1.80 l-1.80,1.80 l-1.80,-1.80 z" fill="#fff" stroke="#ff0000" stroke-width="1.6"/>
<path d="M235.60,151.50 l1.80,1.80 l-1.80,1.80 l-1.80,-1.80 z" fill="#fff" stroke="#ff0000" stroke-width="1.6"/>
<path d="M240.85,157.10 l1.80,1.80 l-1.80,1.80 l-1.80,-1.80 z" fill="#fff" stroke="#ff0000" stroke-width="1.6"/>
<path d="M246.10,160.60 l1.80,1.80 l-1.80,1.80 l-1.80,-1.80 z" fill="#fff" stroke="#ff0000" stroke-width="1.6"/>
<path d="M251.35,162.00 l1.80,1.80 l-1.80,1.80 l-1.80,-1.80 z" fill="#fff" stroke="#ff0000" stroke-width="1.6"/>
<path d="M256.60,162.50 l1.80,1.80 l-1.80,1.80 l-1.80,-1.80 z" fill="#fff" stroke="#ff0000" stroke-width="1.6"/>
<path d="M261.85,161.70 l1.80,1.80 l-1.80,1.80 l-1.80,-1.80 z" fill="#fff" stroke="#ff0000" stroke-width="1.6"/>
<path d="M267.10,160.60 l1.80,1.80 l-1.80,1.80 l-1.80,-1.80 z" fill="#fff" stroke="#ff0000" stroke-width="1.6"/>
<path d="M272.35,159.80 l1.80,1.80 l-1.80,1.80 l-1.80,-1.80 z" fill="#fff" stroke="#ff0000" stroke-width="1.6"/>
<path d="M277.60,158.70 l1.80,1.80 l-1.80,1.80 l-1.80,-1.80 z" fill="#fff" stroke="#ff0000" stroke-width="1.6"/>
<path d="M282.85,157.40 l1.80,1.80 l-1.80,1.80 l-1.80,-1.80 z" fill="#fff" stroke="#ff0000" stroke-width="1.6"/>
<path d="M309.10,153.00 l1.80,1.80 l-1.80,1.80 l-1.80,-1.80 z" fill="#fff" stroke="#ff0000" stroke-width="1.6"/>
<path d="M335.35,150.80 l1.80,1.80 l-1.80,1.80 l-1.80,-1.80 z" fill="#fff" stroke="#ff0000" stroke-width="1.6"/>
<path d="M361.60,149.40 l1.80,1.80 l-1.80,1.80 l-1.80,-1.80 z" fill="#fff" stroke="#ff0000" stroke-width="1.6"/>
<g font-family="'Liberation Serif', serif" fill="#000">
<text x="47.10" y="235.15" font-size="11.3" text-anchor="end" textLength="13.90" lengthAdjust="spacingAndGlyphs" >0.0</text>
<text x="47.10" y="191.88" font-size="11.3" text-anchor="end" textLength="13.90" lengthAdjust="spacingAndGlyphs" >0.5</text>
<text x="47.10" y="148.61" font-size="11.3" text-anchor="end" textLength="13.90" lengthAdjust="spacingAndGlyphs" >1.0</text>
<text x="47.10" y="105.34" font-size="11.3" text-anchor="end" textLength="13.90" lengthAdjust="spacingAndGlyphs" >1.5</text>
<text x="47.10" y="62.07" font-size="11.3" text-anchor="end" textLength="13.90" lengthAdjust="spacingAndGlyphs" >2.0</text>
<text x="47.10" y="18.80" font-size="11.3" text-anchor="end" textLength="13.90" lengthAdjust="spacingAndGlyphs" >2.5</text>
<text x="54.80" y="255.00" font-size="11.3" text-anchor="middle" textLength="13.90" lengthAdjust="spacingAndGlyphs" >1.0</text>
<text x="107.30" y="255.00" font-size="11.3" text-anchor="middle" textLength="13.90" lengthAdjust="spacingAndGlyphs" >1.5</text>
<text x="159.80" y="255.00" font-size="11.3" text-anchor="middle" textLength="13.90" lengthAdjust="spacingAndGlyphs" >2.0</text>
<text x="212.30" y="255.00" font-size="11.3" text-anchor="middle" textLength="13.90" lengthAdjust="spacingAndGlyphs" >2.5</text>
<text x="264.80" y="255.00" font-size="11.3" text-anchor="middle" textLength="13.90" lengthAdjust="spacingAndGlyphs" >3.0</text>
<text x="317.30" y="255.00" font-size="11.3" text-anchor="middle" textLength="13.90" lengthAdjust="spacingAndGlyphs" >3.5</text>
<text x="369.80" y="255.00" font-size="11.3" text-anchor="middle" textLength="13.90" lengthAdjust="spacingAndGlyphs" >4.0</text>
<text x="196.20" y="89.20" font-size="11.3" text-anchor="end" textLength="19.40" lengthAdjust="spacingAndGlyphs" >0.02</text>
<text x="196.20" y="121.40" font-size="11.3" text-anchor="end" textLength="19.40" lengthAdjust="spacingAndGlyphs" >0.01</text>
<text x="196.20" y="153.60" font-size="11.3" text-anchor="end" textLength="13.90" lengthAdjust="spacingAndGlyphs" >0.0</text>
<text x="196.20" y="185.80" font-size="11.3" text-anchor="end" textLength="23.20" lengthAdjust="spacingAndGlyphs" >-0.01</text>
<text x="204.10" y="212.90" font-size="11.3" text-anchor="middle" >2</text>
<text x="256.60" y="212.90" font-size="11.3" text-anchor="middle" >3</text>
<text x="309.10" y="212.90" font-size="11.3" text-anchor="middle" >4</text>
<text x="361.60" y="212.90" font-size="11.3" text-anchor="middle" >5</text>
<text x="211.70" y="275.50" font-size="14.5" text-anchor="middle" textLength="25.40" lengthAdjust="spacingAndGlyphs" >d[Å]</text>
<text transform="translate(22.3,127.4) rotate(-90)" font-size="14" text-anchor="middle" textLength="33.8" lengthAdjust="spacingAndGlyphs">E[eV]</text>
<text x="150.50" y="32.90" font-size="14" text-anchor="start" textLength="28.10" lengthAdjust="spacingAndGlyphs" >LDA</text>
<text x="150.50" y="51.90" font-size="14" text-anchor="start" textLength="28.40" lengthAdjust="spacingAndGlyphs" >PBE</text>
<text x="220.30" y="32.90" font-size="14" text-anchor="start" textLength="33.80" lengthAdjust="spacingAndGlyphs" >VDW</text>
<text x="258.80" y="32.90" font-size="14" text-anchor="start" textLength="16.90" lengthAdjust="spacingAndGlyphs" >#1</text>
<text x="220.30" y="51.90" font-size="14" text-anchor="start" textLength="33.80" lengthAdjust="spacingAndGlyphs" >VDW</text>
<text x="258.80" y="51.90" font-size="14" text-anchor="start" textLength="16.90" lengthAdjust="spacingAndGlyphs" >#2</text>
<text x="220.30" y="68.80" font-size="14" text-anchor="start" textLength="33.80" lengthAdjust="spacingAndGlyphs" >VDW</text>
<text x="258.80" y="68.80" font-size="14" text-anchor="start" textLength="16.90" lengthAdjust="spacingAndGlyphs" >#3</text>
<text x="316.40" y="32.90" font-size="14" text-anchor="start" textLength="41.60" lengthAdjust="spacingAndGlyphs" >HSE06</text>
<text x="316.60" y="51.90" font-size="14" text-anchor="start" textLength="4.90" lengthAdjust="spacingAndGlyphs" >r</text>
<text x="321.60" y="44.70" font-size="9.5" text-anchor="start" textLength="4.40" lengthAdjust="spacingAndGlyphs" >2</text>
<text x="326.80" y="51.90" font-size="14" text-anchor="start" textLength="37.50" lengthAdjust="spacingAndGlyphs" >SCAN</text>
<text x="316.40" y="68.80" font-size="14" text-anchor="start" textLength="33.60" lengthAdjust="spacingAndGlyphs" >QMC</text>
</g>
<path d="M118.00,27.70 H144.10" stroke="#000" stroke-width="1.5" fill="none" stroke-dasharray="1.3 2.1"/>
<path d="M118.20,46.70 H144.10" stroke="#000" stroke-width="1.5" fill="none"/>
<path d="M187.20,27.70 H213.00" stroke="#0000ff" stroke-width="1.7" fill="none" stroke-dasharray="4.5 1.3"/>
<path d="M187.20,46.70 H213.00" stroke="#00ffff" stroke-width="1.7" fill="none" stroke-dasharray="10.4 2.2"/>
<path d="M187.50,63.60 H213.00" stroke="#ee82ee" stroke-width="1.6" stroke-dasharray="1.2 2.2 8.8 2.2" fill="none"/>
<path d="M284.40,27.70 H310.00" stroke="#a52a2a" stroke-width="1.5" fill="none" stroke-dasharray="4.3 1.3"/>
<path d="M284.00,46.70 H310.00" stroke="#008000" stroke-width="1.9" fill="none" stroke-dasharray="10.4 2.2"/>
<path d="M296.80,61.80 l1.90,1.90 l-1.90,1.90 l-1.90,-1.90 z" fill="#fff" stroke="#ff0000" stroke-width="1.25"/>
</svg>
</body></html>
